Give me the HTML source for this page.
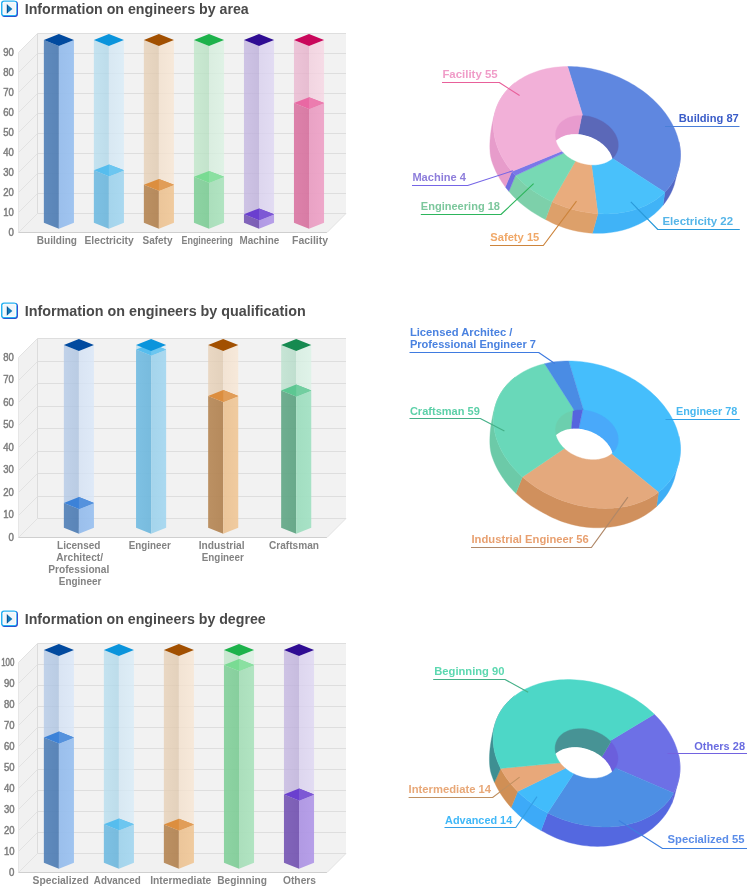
<!DOCTYPE html><html><head><meta charset="utf-8"><title>Information on engineers</title>
<style>html,body{margin:0;padding:0;background:#fff}svg{display:block}text{font-family:"Liberation Sans", sans-serif}</style></head><body>
<svg width="747" height="886" viewBox="0 0 747 886">
<rect width="747" height="886" fill="#fff"/>
<g opacity="0.999">
<g transform="translate(1,0.4)">
<rect x="0.6" y="0.6" width="16.3" height="16.1" rx="3" fill="#2b36c6"/>
<rect x="0" y="0" width="16" height="15.8" rx="3" fill="#25b1f1"/>
<rect x="1.5" y="1.3" width="13.7" height="13.3" rx="1.6" fill="#fff"/>
<rect x="2.4" y="2.2" width="12" height="11.6" rx="0.8" fill="#f1f6fa"/>
<path d="M5.9 3.9 L11.4 8.5 L5.9 13.1 Z" fill="#1279b9"/>
<path d="M5.9 3.9 L6.9 4.8 L6.9 12.2 L5.9 13.1 Z" fill="#0f4f8c"/>
</g>
<text x="24.7" y="14.0" font-size="14" font-weight="bold" fill="#4a4a4a" textLength="224" lengthAdjust="spacingAndGlyphs">Information on engineers by area</text>
<g transform="translate(1,302.4)">
<rect x="0.6" y="0.6" width="16.3" height="16.1" rx="3" fill="#2b36c6"/>
<rect x="0" y="0" width="16" height="15.8" rx="3" fill="#25b1f1"/>
<rect x="1.5" y="1.3" width="13.7" height="13.3" rx="1.6" fill="#fff"/>
<rect x="2.4" y="2.2" width="12" height="11.6" rx="0.8" fill="#f1f6fa"/>
<path d="M5.9 3.9 L11.4 8.5 L5.9 13.1 Z" fill="#1279b9"/>
<path d="M5.9 3.9 L6.9 4.8 L6.9 12.2 L5.9 13.1 Z" fill="#0f4f8c"/>
</g>
<text x="24.7" y="316.0" font-size="14" font-weight="bold" fill="#4a4a4a" textLength="281" lengthAdjust="spacingAndGlyphs">Information on engineers by qualification</text>
<g transform="translate(1,610.4)">
<rect x="0.6" y="0.6" width="16.3" height="16.1" rx="3" fill="#2b36c6"/>
<rect x="0" y="0" width="16" height="15.8" rx="3" fill="#25b1f1"/>
<rect x="1.5" y="1.3" width="13.7" height="13.3" rx="1.6" fill="#fff"/>
<rect x="2.4" y="2.2" width="12" height="11.6" rx="0.8" fill="#f1f6fa"/>
<path d="M5.9 3.9 L11.4 8.5 L5.9 13.1 Z" fill="#1279b9"/>
<path d="M5.9 3.9 L6.9 4.8 L6.9 12.2 L5.9 13.1 Z" fill="#0f4f8c"/>
</g>
<text x="24.7" y="624.0" font-size="14" font-weight="bold" fill="#4a4a4a" textLength="241" lengthAdjust="spacingAndGlyphs">Information on engineers by degree</text>
<polygon points="37.50,33.50 18.50,52.50 18.50,232.50 37.50,213.50" fill="#f1f1f1"/>
<polygon points="37.50,213.50 346.00,213.50 327.00,232.50 18.50,232.50" fill="#f1f1f1"/>
<rect x="37.5" y="33.5" width="308.5" height="180.0" fill="#f2f2f2"/>
<line x1="37.5" y1="33.50" x2="346.0" y2="33.50" stroke="#dedede" stroke-width="1"/>
<line x1="37.5" y1="33.50" x2="18.5" y2="52.50" stroke="#e2e2e2" stroke-width="1"/>
<line x1="37.5" y1="53.50" x2="346.0" y2="53.50" stroke="#dedede" stroke-width="1"/>
<line x1="37.5" y1="53.50" x2="18.5" y2="72.50" stroke="#e2e2e2" stroke-width="1"/>
<line x1="37.5" y1="73.50" x2="346.0" y2="73.50" stroke="#dedede" stroke-width="1"/>
<line x1="37.5" y1="73.50" x2="18.5" y2="92.50" stroke="#e2e2e2" stroke-width="1"/>
<line x1="37.5" y1="93.50" x2="346.0" y2="93.50" stroke="#dedede" stroke-width="1"/>
<line x1="37.5" y1="93.50" x2="18.5" y2="112.50" stroke="#e2e2e2" stroke-width="1"/>
<line x1="37.5" y1="113.50" x2="346.0" y2="113.50" stroke="#dedede" stroke-width="1"/>
<line x1="37.5" y1="113.50" x2="18.5" y2="132.50" stroke="#e2e2e2" stroke-width="1"/>
<line x1="37.5" y1="133.50" x2="346.0" y2="133.50" stroke="#dedede" stroke-width="1"/>
<line x1="37.5" y1="133.50" x2="18.5" y2="152.50" stroke="#e2e2e2" stroke-width="1"/>
<line x1="37.5" y1="153.50" x2="346.0" y2="153.50" stroke="#dedede" stroke-width="1"/>
<line x1="37.5" y1="153.50" x2="18.5" y2="172.50" stroke="#e2e2e2" stroke-width="1"/>
<line x1="37.5" y1="173.50" x2="346.0" y2="173.50" stroke="#dedede" stroke-width="1"/>
<line x1="37.5" y1="173.50" x2="18.5" y2="192.50" stroke="#e2e2e2" stroke-width="1"/>
<line x1="37.5" y1="193.50" x2="346.0" y2="193.50" stroke="#dedede" stroke-width="1"/>
<line x1="37.5" y1="193.50" x2="18.5" y2="212.50" stroke="#e2e2e2" stroke-width="1"/>
<line x1="37.5" y1="213.50" x2="346.0" y2="213.50" stroke="#dedede" stroke-width="1"/>
<line x1="37.5" y1="213.50" x2="18.5" y2="232.50" stroke="#e2e2e2" stroke-width="1"/>
<line x1="37.5" y1="33.5" x2="37.5" y2="213.5" stroke="#dcdcdc" stroke-width="1"/>
<line x1="18.5" y1="52.5" x2="18.5" y2="232.5" stroke="#e6e6e6" stroke-width="1"/>
<line x1="18.5" y1="232.5" x2="327.0" y2="232.5" stroke="#cfcfcf" stroke-width="1"/>
<line x1="346.0" y1="213.5" x2="327.0" y2="232.5" stroke="#e2e2e2" stroke-width="1"/>
<text x="13.8" y="55.60" text-anchor="end" font-size="10.1" fill="#7d7d7d" stroke="#7d7d7d" stroke-width="0.45" textLength="10.6" lengthAdjust="spacingAndGlyphs">90</text>
<text x="13.8" y="75.60" text-anchor="end" font-size="10.1" fill="#7d7d7d" stroke="#7d7d7d" stroke-width="0.45" textLength="10.6" lengthAdjust="spacingAndGlyphs">80</text>
<text x="13.8" y="95.60" text-anchor="end" font-size="10.1" fill="#7d7d7d" stroke="#7d7d7d" stroke-width="0.45" textLength="10.6" lengthAdjust="spacingAndGlyphs">70</text>
<text x="13.8" y="115.60" text-anchor="end" font-size="10.1" fill="#7d7d7d" stroke="#7d7d7d" stroke-width="0.45" textLength="10.6" lengthAdjust="spacingAndGlyphs">60</text>
<text x="13.8" y="135.60" text-anchor="end" font-size="10.1" fill="#7d7d7d" stroke="#7d7d7d" stroke-width="0.45" textLength="10.6" lengthAdjust="spacingAndGlyphs">50</text>
<text x="13.8" y="155.60" text-anchor="end" font-size="10.1" fill="#7d7d7d" stroke="#7d7d7d" stroke-width="0.45" textLength="10.6" lengthAdjust="spacingAndGlyphs">40</text>
<text x="13.8" y="175.60" text-anchor="end" font-size="10.1" fill="#7d7d7d" stroke="#7d7d7d" stroke-width="0.45" textLength="10.6" lengthAdjust="spacingAndGlyphs">30</text>
<text x="13.8" y="195.60" text-anchor="end" font-size="10.1" fill="#7d7d7d" stroke="#7d7d7d" stroke-width="0.45" textLength="10.6" lengthAdjust="spacingAndGlyphs">20</text>
<text x="13.8" y="215.60" text-anchor="end" font-size="10.1" fill="#7d7d7d" stroke="#7d7d7d" stroke-width="0.45" textLength="10.6" lengthAdjust="spacingAndGlyphs">10</text>
<text x="13.8" y="235.60" text-anchor="end" font-size="10.1" fill="#7d7d7d" stroke="#7d7d7d" stroke-width="0.45" textLength="5.4" lengthAdjust="spacingAndGlyphs">0</text>
<linearGradient id="g1" x1="0" y1="0" x2="1" y2="0"><stop offset="0" stop-color="rgba(85,131,185,0.93)"/><stop offset="1" stop-color="rgba(78,124,179,0.93)"/></linearGradient>
<polygon points="43.85,40.00 58.90,45.90 58.90,228.70 43.85,222.80" fill="url(#g1)"/>
<linearGradient id="g2" x1="0" y1="0" x2="1" y2="0"><stop offset="0" stop-color="rgba(148,187,235,0.93)"/><stop offset="1" stop-color="rgba(154,193,240,0.93)"/></linearGradient>
<polygon points="58.90,45.90 73.95,40.00 73.95,222.80 58.90,228.70" fill="url(#g2)"/>
<polygon points="43.85,40.00 58.90,34.10 73.95,40.00 58.90,45.90" fill="#004a9f"/>
<linearGradient id="g3" x1="0" y1="0" x2="1" y2="0"><stop offset="0" stop-color="rgba(183,222,239,0.78)"/><stop offset="1" stop-color="rgba(174,214,232,0.78)"/></linearGradient>
<polygon points="93.85,40.00 108.90,45.90 108.90,176.20 93.85,170.30" fill="url(#g3)"/>
<linearGradient id="g4" x1="0" y1="0" x2="1" y2="0"><stop offset="0" stop-color="rgba(209,229,242,0.78)"/><stop offset="1" stop-color="rgba(216,236,248,0.78)"/></linearGradient>
<polygon points="108.90,45.90 123.95,40.00 123.95,170.30 108.90,176.20" fill="url(#g4)"/>
<linearGradient id="g5" x1="0" y1="0" x2="1" y2="0"><stop offset="0" stop-color="rgba(117,189,226,0.93)"/><stop offset="1" stop-color="rgba(111,183,220,0.93)"/></linearGradient>
<polygon points="93.85,170.30 108.90,176.20 108.90,228.70 93.85,222.80" fill="url(#g5)"/>
<linearGradient id="g6" x1="0" y1="0" x2="1" y2="0"><stop offset="0" stop-color="rgba(159,210,235,0.93)"/><stop offset="1" stop-color="rgba(165,215,240,0.93)"/></linearGradient>
<polygon points="108.90,176.20 123.95,170.30 123.95,222.80 108.90,228.70" fill="url(#g6)"/>
<polygon points="93.85,170.30 108.90,164.40 123.95,170.30 108.90,176.20" fill="#56bdee"/>
<polygon points="108.90,164.40 123.95,170.30 108.90,176.20" fill="#6cc6f0"/>
<polygon points="93.85,40.00 108.90,34.10 123.95,40.00 108.90,45.90" fill="#0a94dc"/>
<linearGradient id="g7" x1="0" y1="0" x2="1" y2="0"><stop offset="0" stop-color="rgba(231,208,182,0.78)"/><stop offset="1" stop-color="rgba(223,200,173,0.78)"/></linearGradient>
<polygon points="143.85,40.00 158.90,45.90 158.90,190.70 143.85,184.80" fill="url(#g7)"/>
<linearGradient id="g8" x1="0" y1="0" x2="1" y2="0"><stop offset="0" stop-color="rgba(242,223,203,0.78)"/><stop offset="1" stop-color="rgba(248,230,211,0.78)"/></linearGradient>
<polygon points="158.90,45.90 173.95,40.00 173.95,184.80 158.90,190.70" fill="url(#g8)"/>
<linearGradient id="g9" x1="0" y1="0" x2="1" y2="0"><stop offset="0" stop-color="rgba(183,137,88,0.93)"/><stop offset="1" stop-color="rgba(177,130,81,0.93)"/></linearGradient>
<polygon points="143.85,184.80 158.90,190.70 158.90,228.70 143.85,222.80" fill="url(#g9)"/>
<linearGradient id="g10" x1="0" y1="0" x2="1" y2="0"><stop offset="0" stop-color="rgba(235,194,147,0.93)"/><stop offset="1" stop-color="rgba(240,200,153,0.93)"/></linearGradient>
<polygon points="158.90,190.70 173.95,184.80 173.95,222.80 158.90,228.70" fill="url(#g10)"/>
<polygon points="143.85,184.80 158.90,178.90 173.95,184.80 158.90,190.70" fill="#dc8e3f"/>
<polygon points="158.90,178.90 173.95,184.80 158.90,190.70" fill="#e19d58"/>
<polygon points="143.85,40.00 158.90,34.10 173.95,40.00 158.90,45.90" fill="#a25000"/>
<linearGradient id="g11" x1="0" y1="0" x2="1" y2="0"><stop offset="0" stop-color="rgba(191,231,201,0.78)"/><stop offset="1" stop-color="rgba(182,223,193,0.78)"/></linearGradient>
<polygon points="193.95,40.00 209.00,45.90 209.00,182.70 193.95,176.80" fill="url(#g11)"/>
<linearGradient id="g12" x1="0" y1="0" x2="1" y2="0"><stop offset="0" stop-color="rgba(211,236,219,0.78)"/><stop offset="1" stop-color="rgba(218,242,226,0.78)"/></linearGradient>
<polygon points="209.00,45.90 224.05,40.00 224.05,176.80 209.00,182.70" fill="url(#g12)"/>
<linearGradient id="g13" x1="0" y1="0" x2="1" y2="0"><stop offset="0" stop-color="rgba(134,209,157,0.93)"/><stop offset="1" stop-color="rgba(127,204,151,0.93)"/></linearGradient>
<polygon points="193.95,176.80 209.00,182.70 209.00,228.70 193.95,222.80" fill="url(#g13)"/>
<linearGradient id="g14" x1="0" y1="0" x2="1" y2="0"><stop offset="0" stop-color="rgba(166,221,184,0.93)"/><stop offset="1" stop-color="rgba(172,227,190,0.93)"/></linearGradient>
<polygon points="209.00,182.70 224.05,176.80 224.05,222.80 209.00,228.70" fill="url(#g14)"/>
<polygon points="193.95,176.80 209.00,170.90 224.05,176.80 209.00,182.70" fill="#79db93"/>
<polygon points="209.00,170.90 224.05,176.80 209.00,182.70" fill="#8ae0a1"/>
<polygon points="193.95,40.00 209.00,34.10 224.05,40.00 209.00,45.90" fill="#1db24b"/>
<linearGradient id="g15" x1="0" y1="0" x2="1" y2="0"><stop offset="0" stop-color="rgba(196,182,225,0.78)"/><stop offset="1" stop-color="rgba(187,173,217,0.78)"/></linearGradient>
<polygon points="243.95,40.00 259.00,45.90 259.00,220.20 243.95,214.30" fill="url(#g15)"/>
<linearGradient id="g16" x1="0" y1="0" x2="1" y2="0"><stop offset="0" stop-color="rgba(215,206,237,0.78)"/><stop offset="1" stop-color="rgba(222,214,243,0.78)"/></linearGradient>
<polygon points="259.00,45.90 274.05,40.00 274.05,214.30 259.00,220.20" fill="url(#g16)"/>
<linearGradient id="g17" x1="0" y1="0" x2="1" y2="0"><stop offset="0" stop-color="rgba(121,90,182,0.93)"/><stop offset="1" stop-color="rgba(115,83,176,0.93)"/></linearGradient>
<polygon points="243.95,214.30 259.00,220.20 259.00,228.70 243.95,222.80" fill="url(#g17)"/>
<linearGradient id="g18" x1="0" y1="0" x2="1" y2="0"><stop offset="0" stop-color="rgba(172,147,226,0.93)"/><stop offset="1" stop-color="rgba(178,153,232,0.93)"/></linearGradient>
<polygon points="259.00,220.20 274.05,214.30 274.05,222.80 259.00,228.70" fill="url(#g18)"/>
<polygon points="243.95,214.30 259.00,208.40 274.05,214.30 259.00,220.20" fill="#6a3fcf"/>
<polygon points="259.00,208.40 274.05,214.30 259.00,220.20" fill="#7d58d5"/>
<polygon points="243.95,40.00 259.00,34.10 274.05,40.00 259.00,45.90" fill="#2f0c93"/>
<linearGradient id="g19" x1="0" y1="0" x2="1" y2="0"><stop offset="0" stop-color="rgba(235,183,208,0.78)"/><stop offset="1" stop-color="rgba(228,174,200,0.78)"/></linearGradient>
<polygon points="293.95,40.00 309.00,45.90 309.00,109.00 293.95,103.10" fill="url(#g19)"/>
<linearGradient id="g20" x1="0" y1="0" x2="1" y2="0"><stop offset="0" stop-color="rgba(241,205,220,0.78)"/><stop offset="1" stop-color="rgba(247,213,227,0.78)"/></linearGradient>
<polygon points="309.00,45.90 324.05,40.00 324.05,103.10 309.00,109.00" fill="url(#g20)"/>
<linearGradient id="g21" x1="0" y1="0" x2="1" y2="0"><stop offset="0" stop-color="rgba(219,121,165,0.93)"/><stop offset="1" stop-color="rgba(214,115,159,0.93)"/></linearGradient>
<polygon points="293.95,103.10 309.00,109.00 309.00,228.70 293.95,222.80" fill="url(#g21)"/>
<linearGradient id="g22" x1="0" y1="0" x2="1" y2="0"><stop offset="0" stop-color="rgba(232,156,193,0.93)"/><stop offset="1" stop-color="rgba(238,162,199,0.93)"/></linearGradient>
<polygon points="309.00,109.00 324.05,103.10 324.05,222.80 309.00,228.70" fill="url(#g22)"/>
<polygon points="293.95,103.10 309.00,97.20 324.05,103.10 309.00,109.00" fill="#e968a3"/>
<polygon points="309.00,97.20 324.05,103.10 309.00,109.00" fill="#ec7caf"/>
<polygon points="293.95,40.00 309.00,34.10 324.05,40.00 309.00,45.90" fill="#c9075b"/>
<text x="56.90" y="244.1" text-anchor="middle" font-size="10" font-weight="bold" fill="#838383" textLength="40.2" lengthAdjust="spacingAndGlyphs">Building</text>
<text x="109.10" y="244.1" text-anchor="middle" font-size="10" font-weight="bold" fill="#838383" textLength="49.2" lengthAdjust="spacingAndGlyphs">Electricity</text>
<text x="157.50" y="244.1" text-anchor="middle" font-size="10" font-weight="bold" fill="#838383" textLength="30.0" lengthAdjust="spacingAndGlyphs">Safety</text>
<text x="207.25" y="244.1" text-anchor="middle" font-size="10" font-weight="bold" fill="#838383" textLength="51.5" lengthAdjust="spacingAndGlyphs">Engineering</text>
<text x="259.40" y="244.1" text-anchor="middle" font-size="10" font-weight="bold" fill="#838383" textLength="39.6" lengthAdjust="spacingAndGlyphs">Machine</text>
<text x="310.00" y="244.1" text-anchor="middle" font-size="10" font-weight="bold" fill="#838383" textLength="36.0" lengthAdjust="spacingAndGlyphs">Facility</text>
<polygon points="37.50,338.50 18.50,357.50 18.50,537.50 37.50,518.50" fill="#f1f1f1"/>
<polygon points="37.50,518.50 346.00,518.50 327.00,537.50 18.50,537.50" fill="#f1f1f1"/>
<rect x="37.5" y="338.5" width="308.5" height="180.0" fill="#f2f2f2"/>
<line x1="37.5" y1="338.50" x2="346.0" y2="338.50" stroke="#dedede" stroke-width="1"/>
<line x1="37.5" y1="338.50" x2="18.5" y2="357.50" stroke="#e2e2e2" stroke-width="1"/>
<line x1="37.5" y1="361.50" x2="346.0" y2="361.50" stroke="#dedede" stroke-width="1"/>
<line x1="37.5" y1="361.50" x2="18.5" y2="380.50" stroke="#e2e2e2" stroke-width="1"/>
<line x1="37.5" y1="383.50" x2="346.0" y2="383.50" stroke="#dedede" stroke-width="1"/>
<line x1="37.5" y1="383.50" x2="18.5" y2="402.50" stroke="#e2e2e2" stroke-width="1"/>
<line x1="37.5" y1="406.50" x2="346.0" y2="406.50" stroke="#dedede" stroke-width="1"/>
<line x1="37.5" y1="406.50" x2="18.5" y2="425.50" stroke="#e2e2e2" stroke-width="1"/>
<line x1="37.5" y1="428.50" x2="346.0" y2="428.50" stroke="#dedede" stroke-width="1"/>
<line x1="37.5" y1="428.50" x2="18.5" y2="447.50" stroke="#e2e2e2" stroke-width="1"/>
<line x1="37.5" y1="451.50" x2="346.0" y2="451.50" stroke="#dedede" stroke-width="1"/>
<line x1="37.5" y1="451.50" x2="18.5" y2="470.50" stroke="#e2e2e2" stroke-width="1"/>
<line x1="37.5" y1="473.50" x2="346.0" y2="473.50" stroke="#dedede" stroke-width="1"/>
<line x1="37.5" y1="473.50" x2="18.5" y2="492.50" stroke="#e2e2e2" stroke-width="1"/>
<line x1="37.5" y1="496.50" x2="346.0" y2="496.50" stroke="#dedede" stroke-width="1"/>
<line x1="37.5" y1="496.50" x2="18.5" y2="515.50" stroke="#e2e2e2" stroke-width="1"/>
<line x1="37.5" y1="518.50" x2="346.0" y2="518.50" stroke="#dedede" stroke-width="1"/>
<line x1="37.5" y1="518.50" x2="18.5" y2="537.50" stroke="#e2e2e2" stroke-width="1"/>
<line x1="37.5" y1="338.5" x2="37.5" y2="518.5" stroke="#dcdcdc" stroke-width="1"/>
<line x1="18.5" y1="357.5" x2="18.5" y2="537.5" stroke="#e6e6e6" stroke-width="1"/>
<line x1="18.5" y1="537.5" x2="327.0" y2="537.5" stroke="#cfcfcf" stroke-width="1"/>
<line x1="346.0" y1="518.5" x2="327.0" y2="537.5" stroke="#e2e2e2" stroke-width="1"/>
<text x="13.8" y="360.60" text-anchor="end" font-size="10.1" fill="#7d7d7d" stroke="#7d7d7d" stroke-width="0.45" textLength="10.6" lengthAdjust="spacingAndGlyphs">80</text>
<text x="13.8" y="383.10" text-anchor="end" font-size="10.1" fill="#7d7d7d" stroke="#7d7d7d" stroke-width="0.45" textLength="10.6" lengthAdjust="spacingAndGlyphs">70</text>
<text x="13.8" y="405.60" text-anchor="end" font-size="10.1" fill="#7d7d7d" stroke="#7d7d7d" stroke-width="0.45" textLength="10.6" lengthAdjust="spacingAndGlyphs">60</text>
<text x="13.8" y="428.10" text-anchor="end" font-size="10.1" fill="#7d7d7d" stroke="#7d7d7d" stroke-width="0.45" textLength="10.6" lengthAdjust="spacingAndGlyphs">50</text>
<text x="13.8" y="450.60" text-anchor="end" font-size="10.1" fill="#7d7d7d" stroke="#7d7d7d" stroke-width="0.45" textLength="10.6" lengthAdjust="spacingAndGlyphs">40</text>
<text x="13.8" y="473.10" text-anchor="end" font-size="10.1" fill="#7d7d7d" stroke="#7d7d7d" stroke-width="0.45" textLength="10.6" lengthAdjust="spacingAndGlyphs">30</text>
<text x="13.8" y="495.60" text-anchor="end" font-size="10.1" fill="#7d7d7d" stroke="#7d7d7d" stroke-width="0.45" textLength="10.6" lengthAdjust="spacingAndGlyphs">20</text>
<text x="13.8" y="518.10" text-anchor="end" font-size="10.1" fill="#7d7d7d" stroke="#7d7d7d" stroke-width="0.45" textLength="10.6" lengthAdjust="spacingAndGlyphs">10</text>
<text x="13.8" y="540.60" text-anchor="end" font-size="10.1" fill="#7d7d7d" stroke="#7d7d7d" stroke-width="0.45" textLength="5.4" lengthAdjust="spacingAndGlyphs">0</text>
<linearGradient id="g23" x1="0" y1="0" x2="1" y2="0"><stop offset="0" stop-color="rgba(179,201,231,0.78)"/><stop offset="1" stop-color="rgba(170,193,223,0.78)"/></linearGradient>
<polygon points="63.85,345.00 78.90,350.90 78.90,508.90 63.85,503.00" fill="url(#g23)"/>
<linearGradient id="g24" x1="0" y1="0" x2="1" y2="0"><stop offset="0" stop-color="rgba(210,224,243,0.78)"/><stop offset="1" stop-color="rgba(217,231,249,0.78)"/></linearGradient>
<polygon points="78.90,350.90 93.95,345.00 93.95,503.00 78.90,508.90" fill="url(#g24)"/>
<linearGradient id="g25" x1="0" y1="0" x2="1" y2="0"><stop offset="0" stop-color="rgba(85,131,185,0.93)"/><stop offset="1" stop-color="rgba(78,124,179,0.93)"/></linearGradient>
<polygon points="63.85,503.00 78.90,508.90 78.90,533.70 63.85,527.80" fill="url(#g25)"/>
<linearGradient id="g26" x1="0" y1="0" x2="1" y2="0"><stop offset="0" stop-color="rgba(148,187,235,0.93)"/><stop offset="1" stop-color="rgba(154,193,240,0.93)"/></linearGradient>
<polygon points="78.90,508.90 93.95,503.00 93.95,527.80 78.90,533.70" fill="url(#g26)"/>
<polygon points="63.85,503.00 78.90,497.10 93.95,503.00 78.90,508.90" fill="#3c82d8"/>
<polygon points="78.90,497.10 93.95,503.00 78.90,508.90" fill="#5592dd"/>
<polygon points="63.85,345.00 78.90,339.10 93.95,345.00 78.90,350.90" fill="#004a9f"/>
<linearGradient id="g27" x1="0" y1="0" x2="1" y2="0"><stop offset="0" stop-color="rgba(183,222,239,0.78)"/><stop offset="1" stop-color="rgba(174,214,232,0.78)"/></linearGradient>
<polygon points="136.05,345.00 151.10,350.90 151.10,355.50 136.05,349.60" fill="url(#g27)"/>
<linearGradient id="g28" x1="0" y1="0" x2="1" y2="0"><stop offset="0" stop-color="rgba(209,229,242,0.78)"/><stop offset="1" stop-color="rgba(216,236,248,0.78)"/></linearGradient>
<polygon points="151.10,350.90 166.15,345.00 166.15,349.60 151.10,355.50" fill="url(#g28)"/>
<linearGradient id="g29" x1="0" y1="0" x2="1" y2="0"><stop offset="0" stop-color="rgba(117,189,226,0.93)"/><stop offset="1" stop-color="rgba(111,183,220,0.93)"/></linearGradient>
<polygon points="136.05,349.60 151.10,355.50 151.10,533.70 136.05,527.80" fill="url(#g29)"/>
<linearGradient id="g30" x1="0" y1="0" x2="1" y2="0"><stop offset="0" stop-color="rgba(159,210,235,0.93)"/><stop offset="1" stop-color="rgba(165,215,240,0.93)"/></linearGradient>
<polygon points="151.10,355.50 166.15,349.60 166.15,527.80 151.10,533.70" fill="url(#g30)"/>
<polygon points="136.05,349.60 151.10,343.70 166.15,349.60 151.10,355.50" fill="#56bdee"/>
<polygon points="151.10,343.70 166.15,349.60 151.10,355.50" fill="#6cc6f0"/>
<polygon points="136.05,345.00 151.10,339.10 166.15,345.00 151.10,350.90" fill="#0a94dc"/>
<linearGradient id="g31" x1="0" y1="0" x2="1" y2="0"><stop offset="0" stop-color="rgba(231,208,182,0.78)"/><stop offset="1" stop-color="rgba(223,200,173,0.78)"/></linearGradient>
<polygon points="208.15,345.00 223.20,350.90 223.20,401.90 208.15,396.00" fill="url(#g31)"/>
<linearGradient id="g32" x1="0" y1="0" x2="1" y2="0"><stop offset="0" stop-color="rgba(242,223,203,0.78)"/><stop offset="1" stop-color="rgba(248,230,211,0.78)"/></linearGradient>
<polygon points="223.20,350.90 238.25,345.00 238.25,396.00 223.20,401.90" fill="url(#g32)"/>
<linearGradient id="g33" x1="0" y1="0" x2="1" y2="0"><stop offset="0" stop-color="rgba(183,137,88,0.93)"/><stop offset="1" stop-color="rgba(177,130,81,0.93)"/></linearGradient>
<polygon points="208.15,396.00 223.20,401.90 223.20,533.70 208.15,527.80" fill="url(#g33)"/>
<linearGradient id="g34" x1="0" y1="0" x2="1" y2="0"><stop offset="0" stop-color="rgba(235,194,147,0.93)"/><stop offset="1" stop-color="rgba(240,200,153,0.93)"/></linearGradient>
<polygon points="223.20,401.90 238.25,396.00 238.25,527.80 223.20,533.70" fill="url(#g34)"/>
<polygon points="208.15,396.00 223.20,390.10 238.25,396.00 223.20,401.90" fill="#dc8e3f"/>
<polygon points="223.20,390.10 238.25,396.00 223.20,401.90" fill="#e19d58"/>
<polygon points="208.15,345.00 223.20,339.10 238.25,345.00 223.20,350.90" fill="#a25000"/>
<linearGradient id="g35" x1="0" y1="0" x2="1" y2="0"><stop offset="0" stop-color="rgba(186,225,205,0.78)"/><stop offset="1" stop-color="rgba(177,217,197,0.78)"/></linearGradient>
<polygon points="281.15,345.00 296.20,350.90 296.20,396.40 281.15,390.50" fill="url(#g35)"/>
<linearGradient id="g36" x1="0" y1="0" x2="1" y2="0"><stop offset="0" stop-color="rgba(211,237,223,0.78)"/><stop offset="1" stop-color="rgba(218,243,230,0.78)"/></linearGradient>
<polygon points="296.20,350.90 311.25,345.00 311.25,390.50 296.20,396.40" fill="url(#g36)"/>
<linearGradient id="g37" x1="0" y1="0" x2="1" y2="0"><stop offset="0" stop-color="rgba(101,169,137,0.93)"/><stop offset="1" stop-color="rgba(94,163,130,0.93)"/></linearGradient>
<polygon points="281.15,390.50 296.20,396.40 296.20,533.70 281.15,527.80" fill="url(#g37)"/>
<linearGradient id="g38" x1="0" y1="0" x2="1" y2="0"><stop offset="0" stop-color="rgba(156,220,189,0.93)"/><stop offset="1" stop-color="rgba(162,225,195,0.93)"/></linearGradient>
<polygon points="296.20,396.40 311.25,390.50 311.25,527.80 296.20,533.70" fill="url(#g38)"/>
<polygon points="281.15,390.50 296.20,384.60 311.25,390.50 296.20,396.40" fill="#5cc792"/>
<polygon points="296.20,384.60 311.25,390.50 296.20,396.40" fill="#71cea0"/>
<polygon points="281.15,345.00 296.20,339.10 311.25,345.00 296.20,350.90" fill="#168a50"/>
<text x="78.75" y="549.2" text-anchor="middle" font-size="10" font-weight="bold" fill="#838383" textLength="43.5" lengthAdjust="spacingAndGlyphs">Licensed</text>
<text x="79.65" y="561.3" text-anchor="middle" font-size="10" font-weight="bold" fill="#838383" textLength="46.7" lengthAdjust="spacingAndGlyphs">Architect/</text>
<text x="78.80" y="573.3" text-anchor="middle" font-size="10" font-weight="bold" fill="#838383" textLength="61.0" lengthAdjust="spacingAndGlyphs">Professional</text>
<text x="80.05" y="585.2" text-anchor="middle" font-size="10" font-weight="bold" fill="#838383" textLength="42.5" lengthAdjust="spacingAndGlyphs">Engineer</text>
<text x="149.80" y="549.2" text-anchor="middle" font-size="10" font-weight="bold" fill="#838383" textLength="42.0" lengthAdjust="spacingAndGlyphs">Engineer</text>
<text x="221.70" y="549.2" text-anchor="middle" font-size="10" font-weight="bold" fill="#838383" textLength="45.8" lengthAdjust="spacingAndGlyphs">Industrial</text>
<text x="222.85" y="561.3" text-anchor="middle" font-size="10" font-weight="bold" fill="#838383" textLength="42.1" lengthAdjust="spacingAndGlyphs">Engineer</text>
<text x="294.00" y="549.2" text-anchor="middle" font-size="10" font-weight="bold" fill="#838383" textLength="50.0" lengthAdjust="spacingAndGlyphs">Craftsman</text>
<polygon points="37.50,643.50 18.50,662.50 18.50,872.50 37.50,853.50" fill="#f1f1f1"/>
<polygon points="37.50,853.50 346.00,853.50 327.00,872.50 18.50,872.50" fill="#f1f1f1"/>
<rect x="37.5" y="643.5" width="308.5" height="210.0" fill="#f2f2f2"/>
<line x1="37.5" y1="643.50" x2="346.0" y2="643.50" stroke="#dedede" stroke-width="1"/>
<line x1="37.5" y1="643.50" x2="18.5" y2="662.50" stroke="#e2e2e2" stroke-width="1"/>
<line x1="37.5" y1="664.50" x2="346.0" y2="664.50" stroke="#dedede" stroke-width="1"/>
<line x1="37.5" y1="664.50" x2="18.5" y2="683.50" stroke="#e2e2e2" stroke-width="1"/>
<line x1="37.5" y1="685.50" x2="346.0" y2="685.50" stroke="#dedede" stroke-width="1"/>
<line x1="37.5" y1="685.50" x2="18.5" y2="704.50" stroke="#e2e2e2" stroke-width="1"/>
<line x1="37.5" y1="706.50" x2="346.0" y2="706.50" stroke="#dedede" stroke-width="1"/>
<line x1="37.5" y1="706.50" x2="18.5" y2="725.50" stroke="#e2e2e2" stroke-width="1"/>
<line x1="37.5" y1="727.50" x2="346.0" y2="727.50" stroke="#dedede" stroke-width="1"/>
<line x1="37.5" y1="727.50" x2="18.5" y2="746.50" stroke="#e2e2e2" stroke-width="1"/>
<line x1="37.5" y1="748.50" x2="346.0" y2="748.50" stroke="#dedede" stroke-width="1"/>
<line x1="37.5" y1="748.50" x2="18.5" y2="767.50" stroke="#e2e2e2" stroke-width="1"/>
<line x1="37.5" y1="769.50" x2="346.0" y2="769.50" stroke="#dedede" stroke-width="1"/>
<line x1="37.5" y1="769.50" x2="18.5" y2="788.50" stroke="#e2e2e2" stroke-width="1"/>
<line x1="37.5" y1="790.50" x2="346.0" y2="790.50" stroke="#dedede" stroke-width="1"/>
<line x1="37.5" y1="790.50" x2="18.5" y2="809.50" stroke="#e2e2e2" stroke-width="1"/>
<line x1="37.5" y1="811.50" x2="346.0" y2="811.50" stroke="#dedede" stroke-width="1"/>
<line x1="37.5" y1="811.50" x2="18.5" y2="830.50" stroke="#e2e2e2" stroke-width="1"/>
<line x1="37.5" y1="832.50" x2="346.0" y2="832.50" stroke="#dedede" stroke-width="1"/>
<line x1="37.5" y1="832.50" x2="18.5" y2="851.50" stroke="#e2e2e2" stroke-width="1"/>
<line x1="37.5" y1="853.50" x2="346.0" y2="853.50" stroke="#dedede" stroke-width="1"/>
<line x1="37.5" y1="853.50" x2="18.5" y2="872.50" stroke="#e2e2e2" stroke-width="1"/>
<line x1="37.5" y1="643.5" x2="37.5" y2="853.5" stroke="#dcdcdc" stroke-width="1"/>
<line x1="18.5" y1="662.5" x2="18.5" y2="872.5" stroke="#e6e6e6" stroke-width="1"/>
<line x1="18.5" y1="872.5" x2="327.0" y2="872.5" stroke="#cfcfcf" stroke-width="1"/>
<line x1="346.0" y1="853.5" x2="327.0" y2="872.5" stroke="#e2e2e2" stroke-width="1"/>
<text x="14.5" y="665.60" text-anchor="end" font-size="10.1" fill="#7d7d7d" stroke="#7d7d7d" stroke-width="0.45" textLength="13.3" lengthAdjust="spacingAndGlyphs">100</text>
<text x="14.5" y="686.60" text-anchor="end" font-size="10.1" fill="#7d7d7d" stroke="#7d7d7d" stroke-width="0.45" textLength="10.6" lengthAdjust="spacingAndGlyphs">90</text>
<text x="14.5" y="707.60" text-anchor="end" font-size="10.1" fill="#7d7d7d" stroke="#7d7d7d" stroke-width="0.45" textLength="10.6" lengthAdjust="spacingAndGlyphs">80</text>
<text x="14.5" y="728.60" text-anchor="end" font-size="10.1" fill="#7d7d7d" stroke="#7d7d7d" stroke-width="0.45" textLength="10.6" lengthAdjust="spacingAndGlyphs">70</text>
<text x="14.5" y="749.60" text-anchor="end" font-size="10.1" fill="#7d7d7d" stroke="#7d7d7d" stroke-width="0.45" textLength="10.6" lengthAdjust="spacingAndGlyphs">60</text>
<text x="14.5" y="770.60" text-anchor="end" font-size="10.1" fill="#7d7d7d" stroke="#7d7d7d" stroke-width="0.45" textLength="10.6" lengthAdjust="spacingAndGlyphs">50</text>
<text x="14.5" y="791.60" text-anchor="end" font-size="10.1" fill="#7d7d7d" stroke="#7d7d7d" stroke-width="0.45" textLength="10.6" lengthAdjust="spacingAndGlyphs">40</text>
<text x="14.5" y="812.60" text-anchor="end" font-size="10.1" fill="#7d7d7d" stroke="#7d7d7d" stroke-width="0.45" textLength="10.6" lengthAdjust="spacingAndGlyphs">30</text>
<text x="14.5" y="833.60" text-anchor="end" font-size="10.1" fill="#7d7d7d" stroke="#7d7d7d" stroke-width="0.45" textLength="10.6" lengthAdjust="spacingAndGlyphs">20</text>
<text x="14.5" y="854.60" text-anchor="end" font-size="10.1" fill="#7d7d7d" stroke="#7d7d7d" stroke-width="0.45" textLength="10.6" lengthAdjust="spacingAndGlyphs">10</text>
<text x="14.5" y="875.60" text-anchor="end" font-size="10.1" fill="#7d7d7d" stroke="#7d7d7d" stroke-width="0.45" textLength="5.4" lengthAdjust="spacingAndGlyphs">0</text>
<linearGradient id="g39" x1="0" y1="0" x2="1" y2="0"><stop offset="0" stop-color="rgba(179,201,231,0.78)"/><stop offset="1" stop-color="rgba(170,193,223,0.78)"/></linearGradient>
<polygon points="43.85,650.00 58.90,655.90 58.90,743.40 43.85,737.50" fill="url(#g39)"/>
<linearGradient id="g40" x1="0" y1="0" x2="1" y2="0"><stop offset="0" stop-color="rgba(210,224,243,0.78)"/><stop offset="1" stop-color="rgba(217,231,249,0.78)"/></linearGradient>
<polygon points="58.90,655.90 73.95,650.00 73.95,737.50 58.90,743.40" fill="url(#g40)"/>
<linearGradient id="g41" x1="0" y1="0" x2="1" y2="0"><stop offset="0" stop-color="rgba(85,131,185,0.93)"/><stop offset="1" stop-color="rgba(78,124,179,0.93)"/></linearGradient>
<polygon points="43.85,737.50 58.90,743.40 58.90,868.70 43.85,862.80" fill="url(#g41)"/>
<linearGradient id="g42" x1="0" y1="0" x2="1" y2="0"><stop offset="0" stop-color="rgba(148,187,235,0.93)"/><stop offset="1" stop-color="rgba(154,193,240,0.93)"/></linearGradient>
<polygon points="58.90,743.40 73.95,737.50 73.95,862.80 58.90,868.70" fill="url(#g42)"/>
<polygon points="43.85,737.50 58.90,731.60 73.95,737.50 58.90,743.40" fill="#3c82d8"/>
<polygon points="58.90,731.60 73.95,737.50 58.90,743.40" fill="#5592dd"/>
<polygon points="43.85,650.00 58.90,644.10 73.95,650.00 58.90,655.90" fill="#004a9f"/>
<linearGradient id="g43" x1="0" y1="0" x2="1" y2="0"><stop offset="0" stop-color="rgba(183,222,239,0.78)"/><stop offset="1" stop-color="rgba(174,214,232,0.78)"/></linearGradient>
<polygon points="103.85,650.00 118.90,655.90 118.90,830.20 103.85,824.30" fill="url(#g43)"/>
<linearGradient id="g44" x1="0" y1="0" x2="1" y2="0"><stop offset="0" stop-color="rgba(209,229,242,0.78)"/><stop offset="1" stop-color="rgba(216,236,248,0.78)"/></linearGradient>
<polygon points="118.90,655.90 133.95,650.00 133.95,824.30 118.90,830.20" fill="url(#g44)"/>
<linearGradient id="g45" x1="0" y1="0" x2="1" y2="0"><stop offset="0" stop-color="rgba(117,189,226,0.93)"/><stop offset="1" stop-color="rgba(111,183,220,0.93)"/></linearGradient>
<polygon points="103.85,824.30 118.90,830.20 118.90,868.70 103.85,862.80" fill="url(#g45)"/>
<linearGradient id="g46" x1="0" y1="0" x2="1" y2="0"><stop offset="0" stop-color="rgba(159,210,235,0.93)"/><stop offset="1" stop-color="rgba(165,215,240,0.93)"/></linearGradient>
<polygon points="118.90,830.20 133.95,824.30 133.95,862.80 118.90,868.70" fill="url(#g46)"/>
<polygon points="103.85,824.30 118.90,818.40 133.95,824.30 118.90,830.20" fill="#56bdee"/>
<polygon points="118.90,818.40 133.95,824.30 118.90,830.20" fill="#6cc6f0"/>
<polygon points="103.85,650.00 118.90,644.10 133.95,650.00 118.90,655.90" fill="#0a94dc"/>
<linearGradient id="g47" x1="0" y1="0" x2="1" y2="0"><stop offset="0" stop-color="rgba(231,208,182,0.78)"/><stop offset="1" stop-color="rgba(223,200,173,0.78)"/></linearGradient>
<polygon points="163.85,650.00 178.90,655.90 178.90,830.50 163.85,824.60" fill="url(#g47)"/>
<linearGradient id="g48" x1="0" y1="0" x2="1" y2="0"><stop offset="0" stop-color="rgba(242,223,203,0.78)"/><stop offset="1" stop-color="rgba(248,230,211,0.78)"/></linearGradient>
<polygon points="178.90,655.90 193.95,650.00 193.95,824.60 178.90,830.50" fill="url(#g48)"/>
<linearGradient id="g49" x1="0" y1="0" x2="1" y2="0"><stop offset="0" stop-color="rgba(183,137,88,0.93)"/><stop offset="1" stop-color="rgba(177,130,81,0.93)"/></linearGradient>
<polygon points="163.85,824.60 178.90,830.50 178.90,868.70 163.85,862.80" fill="url(#g49)"/>
<linearGradient id="g50" x1="0" y1="0" x2="1" y2="0"><stop offset="0" stop-color="rgba(235,194,147,0.93)"/><stop offset="1" stop-color="rgba(240,200,153,0.93)"/></linearGradient>
<polygon points="178.90,830.50 193.95,824.60 193.95,862.80 178.90,868.70" fill="url(#g50)"/>
<polygon points="163.85,824.60 178.90,818.70 193.95,824.60 178.90,830.50" fill="#dc8e3f"/>
<polygon points="178.90,818.70 193.95,824.60 178.90,830.50" fill="#e19d58"/>
<polygon points="163.85,650.00 178.90,644.10 193.95,650.00 178.90,655.90" fill="#a25000"/>
<linearGradient id="g51" x1="0" y1="0" x2="1" y2="0"><stop offset="0" stop-color="rgba(191,231,201,0.78)"/><stop offset="1" stop-color="rgba(182,223,193,0.78)"/></linearGradient>
<polygon points="223.95,650.00 239.00,655.90 239.00,670.90 223.95,665.00" fill="url(#g51)"/>
<linearGradient id="g52" x1="0" y1="0" x2="1" y2="0"><stop offset="0" stop-color="rgba(211,236,219,0.78)"/><stop offset="1" stop-color="rgba(218,242,226,0.78)"/></linearGradient>
<polygon points="239.00,655.90 254.05,650.00 254.05,665.00 239.00,670.90" fill="url(#g52)"/>
<linearGradient id="g53" x1="0" y1="0" x2="1" y2="0"><stop offset="0" stop-color="rgba(134,209,157,0.93)"/><stop offset="1" stop-color="rgba(127,204,151,0.93)"/></linearGradient>
<polygon points="223.95,665.00 239.00,670.90 239.00,868.70 223.95,862.80" fill="url(#g53)"/>
<linearGradient id="g54" x1="0" y1="0" x2="1" y2="0"><stop offset="0" stop-color="rgba(166,221,184,0.93)"/><stop offset="1" stop-color="rgba(172,227,190,0.93)"/></linearGradient>
<polygon points="239.00,670.90 254.05,665.00 254.05,862.80 239.00,868.70" fill="url(#g54)"/>
<polygon points="223.95,665.00 239.00,659.10 254.05,665.00 239.00,670.90" fill="#79db93"/>
<polygon points="239.00,659.10 254.05,665.00 239.00,670.90" fill="#8ae0a1"/>
<polygon points="223.95,650.00 239.00,644.10 254.05,650.00 239.00,655.90" fill="#1db24b"/>
<linearGradient id="g55" x1="0" y1="0" x2="1" y2="0"><stop offset="0" stop-color="rgba(196,182,225,0.78)"/><stop offset="1" stop-color="rgba(187,173,217,0.78)"/></linearGradient>
<polygon points="283.95,650.00 299.00,655.90 299.00,800.40 283.95,794.50" fill="url(#g55)"/>
<linearGradient id="g56" x1="0" y1="0" x2="1" y2="0"><stop offset="0" stop-color="rgba(215,206,237,0.78)"/><stop offset="1" stop-color="rgba(222,214,243,0.78)"/></linearGradient>
<polygon points="299.00,655.90 314.05,650.00 314.05,794.50 299.00,800.40" fill="url(#g56)"/>
<linearGradient id="g57" x1="0" y1="0" x2="1" y2="0"><stop offset="0" stop-color="rgba(121,90,182,0.93)"/><stop offset="1" stop-color="rgba(115,83,176,0.93)"/></linearGradient>
<polygon points="283.95,794.50 299.00,800.40 299.00,868.70 283.95,862.80" fill="url(#g57)"/>
<linearGradient id="g58" x1="0" y1="0" x2="1" y2="0"><stop offset="0" stop-color="rgba(172,147,226,0.93)"/><stop offset="1" stop-color="rgba(178,153,232,0.93)"/></linearGradient>
<polygon points="299.00,800.40 314.05,794.50 314.05,862.80 299.00,868.70" fill="url(#g58)"/>
<polygon points="283.95,794.50 299.00,788.60 314.05,794.50 299.00,800.40" fill="#6a3fcf"/>
<polygon points="299.00,788.60 314.05,794.50 299.00,800.40" fill="#7d58d5"/>
<polygon points="283.95,650.00 299.00,644.10 314.05,650.00 299.00,655.90" fill="#2f0c93"/>
<text x="60.65" y="883.7" text-anchor="middle" font-size="10" font-weight="bold" fill="#838383" textLength="56.3" lengthAdjust="spacingAndGlyphs">Specialized</text>
<text x="117.30" y="883.7" text-anchor="middle" font-size="10" font-weight="bold" fill="#838383" textLength="47.0" lengthAdjust="spacingAndGlyphs">Advanced</text>
<text x="180.75" y="883.7" text-anchor="middle" font-size="10" font-weight="bold" fill="#838383" textLength="61.1" lengthAdjust="spacingAndGlyphs">Intermediate</text>
<text x="242.10" y="883.7" text-anchor="middle" font-size="10" font-weight="bold" fill="#838383" textLength="49.6" lengthAdjust="spacingAndGlyphs">Beginning</text>
<text x="299.50" y="883.7" text-anchor="middle" font-size="10" font-weight="bold" fill="#838383" textLength="33.0" lengthAdjust="spacingAndGlyphs">Others</text>
<polygon points="678.83,141.72 679.37,144.39 679.79,147.06 680.08,149.72 680.26,152.36 680.31,154.99 680.24,157.60 680.05,160.19 679.73,162.75 679.29,165.28 678.73,167.78 678.05,170.24 677.25,172.66 676.33,175.04 675.29,177.37 674.13,179.66 672.86,181.89 671.48,184.07 669.99,186.19 668.38,188.25 666.67,190.24 664.86,192.17 662.96,205.28 664.80,202.93 666.53,200.52 668.13,198.04 669.61,195.50 670.96,192.90 672.19,190.25 673.29,187.55 674.26,184.81 677.25,172.66 678.05,170.24 678.73,167.78 679.29,165.28 679.73,162.75 680.05,160.19 680.24,157.60 680.31,154.99 680.26,152.36 680.08,149.72 679.79,147.06 679.37,144.39 678.83,141.72" fill="#5468c4" stroke="#5468c4" stroke-width="0.4"/>
<polygon points="664.86,192.17 662.94,194.03 660.93,195.82 658.81,197.54 656.61,199.18 654.31,200.74 651.92,202.22 649.45,203.62 646.90,204.94 644.26,206.18 641.55,207.32 638.77,208.38 635.93,209.35 633.01,210.23 630.04,211.02 627.01,211.71 623.93,212.31 620.80,212.82 617.62,213.23 614.40,213.54 611.15,213.76 607.87,213.88 604.56,213.90 601.22,213.83 597.87,213.66 592.43,233.14 595.97,233.27 599.50,233.28 603.01,233.16 606.49,232.93 609.95,232.57 613.36,232.10 616.73,231.50 620.06,230.79 623.33,229.97 626.54,229.03 629.69,227.98 632.77,226.82 635.78,225.55 638.72,224.18 641.57,222.71 644.34,221.13 647.01,219.46 649.60,217.69 652.09,215.84 654.47,213.89 656.76,211.86 658.94,209.74 661.00,207.55 662.96,205.28" fill="#40b3f7" stroke="#40b3f7" stroke-width="0.4"/>
<polygon points="597.87,213.66 594.55,213.40 591.22,213.05 587.88,212.60 584.54,212.06 581.20,211.42 577.88,210.70 574.56,209.89 571.26,208.99 567.98,208.00 564.72,206.92 561.49,205.76 558.30,204.51 555.14,203.18 552.02,201.78 545.46,219.48 548.52,221.12 551.65,222.68 554.84,224.14 558.08,225.50 561.38,226.76 564.72,227.92 568.10,228.97 571.52,229.91 574.97,230.74 578.44,231.45 581.93,232.05 585.43,232.53 588.93,232.89 592.43,233.14" fill="#dda06a" stroke="#dda06a" stroke-width="0.4"/>
<polygon points="552.02,201.78 549.01,200.32 546.06,198.80 543.15,197.20 540.29,195.54 537.50,193.80 534.76,192.01 532.09,190.14 529.48,188.22 526.94,186.24 524.48,184.20 522.09,182.11 519.78,179.97 517.55,177.78 515.41,175.54 508.87,191.34 510.99,193.77 513.20,196.15 515.49,198.46 517.87,200.72 520.32,202.91 522.86,205.04 525.46,207.10 528.14,209.09 530.89,211.00 533.70,212.84 536.57,214.60 539.49,216.29 542.47,217.89 545.46,219.48" fill="#7dd0aa" stroke="#7dd0aa" stroke-width="0.4"/>
<polygon points="515.41,175.54 513.58,173.52 511.83,171.47 505.33,186.91 507.07,189.15 508.87,191.34" fill="#6f6ce0" stroke="#6f6ce0" stroke-width="0.4"/>
<polygon points="511.83,171.47 509.93,169.11 508.12,166.72 506.41,164.30 504.80,161.84 503.29,159.36 501.88,156.86 500.58,154.33 499.38,151.79 498.29,149.23 497.31,146.66 496.44,144.09 495.68,141.51 495.03,138.92 494.49,136.34 494.07,133.77 493.76,131.20 493.57,128.64 493.49,126.10 493.53,123.57 493.68,121.07 493.94,118.59 494.32,116.13 494.81,113.71 495.42,111.31 496.14,108.95 496.96,106.64 497.90,104.36 498.95,102.12 500.11,99.94 501.37,97.80 502.74,95.71 504.21,93.68 505.79,91.71 507.46,89.79 509.23,87.94 511.09,86.15 513.05,84.43 515.10,82.77 515.10,82.77 513.05,84.43 511.09,86.15 509.23,87.94 507.46,89.79 505.79,91.71 504.21,93.68 502.74,95.71 501.37,97.80 500.11,99.94 498.95,102.12 497.90,104.36 496.96,106.64 496.12,108.98 495.29,111.54 494.47,114.32 493.68,117.31 492.93,120.49 492.22,123.84 491.58,127.34 491.01,130.96 490.53,134.67 490.17,138.43 489.93,142.20 489.83,145.94 489.91,149.60 490.16,153.13 490.62,156.48 491.31,159.59 492.22,162.45 493.25,165.28 494.39,168.09 495.64,170.88 497.00,173.64 498.46,176.37 500.03,179.06 501.70,181.72 503.47,184.33 505.33,186.91" fill="#e79ccb" stroke="#e79ccb" stroke-width="0.4"/>
<clipPath id="h140"><polygon points="619.45,151.92 619.13,152.74 618.78,153.55 618.38,154.35 617.94,155.12 617.47,155.88 616.96,156.62 616.41,157.34 615.83,158.04 615.21,158.71 614.55,159.37 613.87,160.00 613.15,160.60 612.40,161.18 611.61,161.74 610.80,162.27 609.96,162.77 609.09,163.25 608.19,163.69 607.27,164.11 606.32,164.50 605.35,164.86 604.35,165.19 603.34,165.49 602.30,165.76 601.25,165.99 600.18,166.20 599.09,166.37 597.99,166.52 596.87,166.63 595.74,166.70 594.60,166.75 593.46,166.76 592.30,166.74 591.14,166.69 589.97,166.61 588.80,166.49 587.62,166.35 586.45,166.17 585.27,165.95 584.10,165.71 582.93,165.44 581.77,165.13 580.61,164.80 579.46,164.43 578.32,164.04 577.19,163.61 576.07,163.16 574.96,162.68 573.87,162.18 572.80,161.64 571.74,161.08 570.70,160.49 569.68,159.88 568.68,159.25 567.70,158.59 566.75,157.91 565.82,157.21 564.92,156.49 564.04,155.75 563.19,154.98 562.37,154.21 561.58,153.41 560.82,152.60 560.10,151.77 559.40,150.93 558.74,150.07 558.11,149.21 557.52,148.33 556.97,147.44 556.45,146.55 555.96,145.64 555.52,144.73 555.11,143.81 554.75,142.89 554.42,141.97 554.13,141.04 553.88,140.12 553.67,139.19 553.50,138.26 553.37,137.34 553.29,136.42 553.24,135.50 553.24,134.60 553.27,133.69 553.35,132.80 553.47,131.91 553.63,131.04 553.83,130.17 554.07,129.32 554.35,128.48 554.67,127.66 555.02,126.85 555.42,126.05 555.86,125.28 556.33,124.52 556.84,123.78 557.39,123.06 557.97,122.36 558.59,121.69 559.25,121.03 559.93,120.40 560.65,119.80 561.40,119.22 562.19,118.66 563.00,118.13 563.84,117.63 564.71,117.15 565.61,116.71 566.53,116.29 567.48,115.90 568.45,115.54 569.45,115.21 570.46,114.91 571.50,114.64 572.55,114.41 573.62,114.20 574.71,114.03 575.81,113.88 576.93,113.77 578.06,113.70 579.20,113.65 580.34,113.64 581.50,113.66 582.66,113.71 583.83,113.79 585.00,113.91 586.18,114.05 587.35,114.23 588.53,114.45 589.70,114.69 590.87,114.96 592.03,115.27 593.19,115.60 594.34,115.97 595.48,116.36 596.61,116.79 597.73,117.24 598.84,117.72 599.93,118.22 601.00,118.76 602.06,119.32 603.10,119.91 604.12,120.52 605.12,121.15 606.10,121.81 607.05,122.49 607.98,123.19 608.88,123.91 609.76,124.65 610.61,125.42 611.43,126.19 612.22,126.99 612.98,127.80 613.70,128.63 614.40,129.47 615.06,130.33 615.69,131.19 616.28,132.07 616.83,132.96 617.35,133.85 617.84,134.76 618.28,135.67 618.69,136.59 619.05,137.51 619.38,138.43 619.67,139.36 619.92,140.28 620.13,141.21 620.30,142.14 620.43,143.06 620.51,143.98 620.56,144.90 620.56,145.80 620.53,146.71 620.45,147.60 620.33,148.49 620.17,149.36 619.97,150.23 619.73,151.08 619.45,151.92"/></clipPath>
<g clip-path="url(#h140)">
<polygon points="582.29,113.19 583.49,113.27 584.70,113.38 585.91,113.53 587.12,113.71 588.33,113.92 589.54,114.16 590.74,114.44 591.94,114.75 593.14,115.09 594.32,115.46 595.50,115.86 596.67,116.29 597.82,116.76 598.96,117.25 600.09,117.77 601.20,118.32 602.29,118.89 603.36,119.49 604.41,120.12 605.44,120.77 606.45,121.45 607.43,122.15 608.39,122.87 609.32,123.62 610.22,124.38 611.09,125.17 611.93,125.97 612.75,126.79 613.53,127.63 614.27,128.48 614.98,129.35 615.66,130.23 616.30,131.13 616.91,132.03 617.48,132.95 618.00,133.87 618.50,134.81 618.95,135.75 619.36,136.69 619.73,137.64 620.06,138.59 620.35,139.55 620.60,140.50 620.80,141.46 620.96,142.41 621.08,143.36 621.16,144.31 621.20,145.25 621.19,146.18 621.14,147.11 621.05,148.03 620.91,148.94 620.74,149.84 620.52,150.72 620.25,151.60 619.95,152.45 619.61,153.30 619.22,154.13 618.80,154.94 618.33,155.73 617.83,156.50 617.28,157.25 616.70,157.98 616.09,158.69 615.43,159.38 614.74,160.04 602.12,177.57 602.64,176.96 603.12,176.32 603.58,175.67 604.01,174.99 604.41,174.29 604.78,173.58 605.13,172.84 605.44,172.09 605.73,171.33 605.98,170.55 606.21,169.75 606.40,168.94 606.56,168.12 606.69,167.29 606.79,166.45 606.86,165.60 606.90,164.74 606.91,163.87 606.88,163.00 606.82,162.12 606.73,161.24 606.61,160.36 606.46,159.48 606.28,158.59 606.06,157.71 605.82,156.83 605.54,155.95 605.24,155.08 604.90,154.21 604.54,153.34 604.15,152.49 603.73,151.64 603.28,150.80 602.80,149.97 602.30,149.16 601.78,148.35 601.22,147.56 600.64,146.79 600.04,146.03 599.42,145.28 598.77,144.56 598.10,143.85 597.42,143.16 596.71,142.49 595.98,141.84 595.23,141.21 594.47,140.61 593.69,140.03 592.90,139.47 592.09,138.94 591.27,138.43 590.43,137.95 589.59,137.49 588.73,137.06 587.87,136.66 587.00,136.29 586.12,135.95 585.24,135.63 584.35,135.35 583.45,135.09 582.56,134.86 581.66,134.67 580.77,134.50 579.87,134.37 578.98,134.26 578.09,134.19" fill="#5b68b8" stroke="#5b68b8" stroke-width="0.4"/>
<polygon points="614.74,160.04 614.00,160.70 613.21,161.33 612.40,161.93 611.55,162.50 610.66,163.04 609.75,163.56 608.80,164.04 607.83,164.49 606.82,164.91 605.80,165.29 604.74,165.64 603.66,165.96 602.56,166.25 601.44,166.50 600.31,166.71 599.15,166.89 597.98,167.04 596.79,167.15 595.59,167.22 594.37,167.26 593.15,167.26 591.92,167.23 585.22,184.23 586.13,184.26 587.04,184.25 587.93,184.22 588.82,184.15 589.70,184.05 590.57,183.92 591.43,183.75 592.27,183.55 593.10,183.32 593.92,183.05 594.72,182.76 595.50,182.43 596.26,182.08 597.00,181.69 597.72,181.27 598.42,180.83 599.10,180.35 599.76,179.85 600.39,179.32 600.99,178.76 601.57,178.18 602.12,177.57" fill="#40b3f7" stroke="#40b3f7" stroke-width="0.4"/>
<polygon points="591.92,167.23 590.66,167.16 589.39,167.05 588.12,166.90 586.84,166.72 585.57,166.50 584.30,166.25 583.03,165.96 581.77,165.63 580.51,165.27 579.26,164.87 578.03,164.44 576.80,163.98 575.59,163.48 574.40,162.95 572.24,180.27 573.12,180.76 574.02,181.22 574.93,181.65 575.84,182.04 576.77,182.41 577.70,182.75 578.63,183.05 579.57,183.32 580.51,183.55 581.46,183.76 582.40,183.92 583.34,184.06 584.28,184.16 585.22,184.23" fill="#dda06a" stroke="#dda06a" stroke-width="0.4"/>
<polygon points="574.40,162.95 573.28,162.42 572.18,161.87 571.11,161.28 570.05,160.67 569.01,160.04 567.99,159.38 567.00,158.70 566.03,157.99 565.08,157.27 564.17,156.52 563.28,155.75 562.42,154.96 561.59,154.16 562.75,172.12 563.37,172.87 564.00,173.60 564.66,174.31 565.34,175.00 566.04,175.68 566.76,176.33 567.49,176.96 568.25,177.57 569.02,178.16 569.80,178.72 570.60,179.26 571.41,179.78 572.24,180.27" fill="#7dd0aa" stroke="#7dd0aa" stroke-width="0.4"/>
<polygon points="561.59,154.16 560.58,153.10 559.62,152.02 561.29,170.15 562.00,171.15 562.75,172.12" fill="#6f6ce0" stroke="#6f6ce0" stroke-width="0.4"/>
<polygon points="559.62,152.02 558.90,151.16 558.22,150.27 557.57,149.38 556.96,148.47 556.39,147.56 555.85,146.63 555.36,145.70 554.90,144.76 554.48,143.81 554.11,142.86 553.77,141.90 553.48,140.95 553.23,139.99 553.02,139.03 552.85,138.08 552.72,137.12 552.64,136.17 552.60,135.23 552.61,134.29 552.65,133.36 552.74,132.44 552.88,131.53 553.05,130.63 553.27,129.74 553.53,128.86 553.83,128.00 554.17,127.15 554.56,126.32 554.98,125.51 555.44,124.71 555.95,123.94 556.49,123.18 557.07,122.45 557.69,121.74 558.34,121.05 559.03,120.38 559.75,119.74 560.51,119.13 561.30,118.54 562.13,117.98 562.98,117.45 563.87,116.95 564.78,116.47 565.72,116.02 566.69,115.61 567.68,115.22 568.70,114.87 569.74,114.55 570.80,114.26 571.88,114.00 572.98,113.78 574.10,113.59 575.23,113.43 576.38,113.31 577.54,113.22 578.72,113.16 579.90,113.14 581.09,113.15 582.29,113.19 578.09,134.19 577.20,134.15 576.31,134.14 575.44,134.16 574.57,134.21 573.71,134.30 572.86,134.41 572.02,134.56 571.19,134.74 570.38,134.94 569.57,135.18 568.79,135.45 568.02,135.75 567.27,136.07 566.53,136.43 565.81,136.82 565.12,137.23 564.44,137.67 563.78,138.13 563.15,138.63 562.54,139.15 561.95,139.69 561.39,140.26 560.86,140.85 560.34,141.47 559.86,142.10 559.40,142.76 558.97,143.44 558.57,144.14 558.20,144.86 557.85,145.60 557.54,146.35 557.26,147.12 557.00,147.90 556.78,148.70 556.59,149.51 556.43,150.34 556.30,151.17 556.20,152.01 556.13,152.87 556.10,153.73 556.09,154.60 556.12,155.47 556.18,156.35 556.28,157.23 556.40,158.12 556.56,159.01 556.74,159.89 556.96,160.78 557.21,161.66 557.49,162.54 557.80,163.42 558.13,164.29 558.50,165.15 558.90,166.01 559.32,166.86 559.78,167.70 560.25,168.53 560.76,169.34 561.29,170.15" fill="#e89bce" stroke="#e89bce" stroke-width="0.4"/>
<polygon points="612.21,170.26 611.91,171.03 611.57,171.80 611.20,172.55 610.78,173.28 610.34,173.99 609.86,174.69 609.34,175.37 608.79,176.03 608.21,176.66 607.59,177.28 606.94,177.88 606.26,178.45 605.55,179.00 604.81,179.52 604.05,180.02 603.25,180.49 602.43,180.94 601.59,181.36 600.72,181.76 599.82,182.13 598.90,182.46 597.97,182.78 597.01,183.06 596.03,183.31 595.04,183.53 594.03,183.73 593.00,183.89 591.96,184.03 590.91,184.13 589.84,184.20 588.77,184.25 587.69,184.26 586.59,184.24 585.50,184.19 584.40,184.11 583.29,184.00 582.18,183.87 581.07,183.70 579.97,183.50 578.86,183.27 577.76,183.01 576.66,182.72 575.57,182.41 574.48,182.06 573.40,181.69 572.34,181.29 571.28,180.86 570.24,180.41 569.21,179.93 568.19,179.43 567.20,178.90 566.21,178.35 565.25,177.77 564.31,177.17 563.39,176.55 562.49,175.91 561.61,175.25 560.76,174.57 559.93,173.87 559.13,173.15 558.36,172.41 557.61,171.66 556.90,170.90 556.21,170.11 555.56,169.32 554.93,168.51 554.34,167.70 553.78,166.87 553.26,166.03 552.77,165.19 552.32,164.33 551.90,163.47 551.51,162.61 551.17,161.74 550.86,160.87 550.58,160.00 550.35,159.12 550.15,158.25 549.99,157.37 549.87,156.50 549.79,155.63 549.75,154.77 549.74,153.91 549.78,153.06 549.85,152.22 549.96,151.38 550.11,150.55 550.30,149.74 550.53,148.94 550.79,148.14 551.09,147.37 551.43,146.60 551.80,145.85 552.22,145.12 552.66,144.41 553.14,143.71 553.66,143.03 554.21,142.37 554.79,141.74 555.41,141.12 556.06,140.52 556.74,139.95 557.45,139.40 558.19,138.88 558.95,138.38 559.75,137.91 560.57,137.46 561.41,137.04 562.28,136.64 563.18,136.27 564.10,135.94 565.03,135.62 565.99,135.34 566.97,135.09 567.96,134.87 568.97,134.67 570.00,134.51 571.04,134.37 572.09,134.27 573.16,134.20 574.23,134.15 575.31,134.14 576.41,134.16 577.50,134.21 578.60,134.29 579.71,134.40 580.82,134.53 581.93,134.70 583.03,134.90 584.14,135.13 585.24,135.39 586.34,135.68 587.43,135.99 588.52,136.34 589.60,136.71 590.66,137.11 591.72,137.54 592.76,137.99 593.79,138.47 594.81,138.97 595.80,139.50 596.79,140.05 597.75,140.63 598.69,141.23 599.61,141.85 600.51,142.49 601.39,143.15 602.24,143.83 603.07,144.53 603.87,145.25 604.64,145.99 605.39,146.74 606.10,147.50 606.79,148.29 607.44,149.08 608.07,149.89 608.66,150.70 609.22,151.53 609.74,152.37 610.23,153.21 610.68,154.07 611.10,154.93 611.49,155.79 611.83,156.66 612.14,157.53 612.42,158.40 612.65,159.28 612.85,160.15 613.01,161.03 613.13,161.90 613.21,162.77 613.25,163.63 613.26,164.49 613.22,165.34 613.15,166.18 613.04,167.02 612.89,167.85 612.70,168.66 612.47,169.46 612.21,170.26" fill="#fff"/>
</g>
<polygon points="567.63,66.50 570.86,66.52 574.12,66.64 577.39,66.84 580.67,67.14 583.96,67.53 587.25,68.01 590.54,68.57 593.83,69.23 597.11,69.98 600.37,70.81 603.62,71.73 606.85,72.73 610.06,73.82 613.23,74.99 616.38,76.24 619.48,77.57 622.55,78.98 625.57,80.47 628.54,82.03 631.46,83.66 634.33,85.36 637.13,87.13 639.88,88.97 642.56,90.87 645.17,92.83 647.70,94.85 650.17,96.92 652.55,99.05 654.85,101.23 657.07,103.46 659.20,105.74 661.24,108.06 663.19,110.41 665.04,112.81 666.79,115.24 668.45,117.70 670.00,120.18 671.46,122.70 672.80,125.23 674.04,127.78 675.17,130.35 676.20,132.93 677.11,135.52 677.91,138.12 678.59,140.72 679.16,143.31 679.62,145.91 679.96,148.49 680.19,151.07 680.30,153.63 680.29,156.18 680.17,158.71 679.93,161.21 679.58,163.69 679.11,166.13 678.53,168.55 677.83,170.93 677.02,173.27 676.10,175.57 675.07,177.83 673.92,180.04 672.67,182.20 671.32,184.31 669.85,186.36 668.29,188.36 666.62,190.30 664.86,192.17 612.68,158.57 613.32,157.96 613.92,157.32 614.50,156.67 615.03,155.99 615.54,155.29 616.00,154.58 616.43,153.84 616.83,153.09 617.18,152.33 617.50,151.55 617.78,150.75 618.03,149.94 618.23,149.12 618.39,148.29 618.52,147.45 618.60,146.60 618.65,145.74 618.66,144.87 618.62,144.00 618.55,143.12 618.44,142.24 618.29,141.36 618.10,140.48 617.87,139.59 617.60,138.71 617.30,137.83 616.95,136.95 616.57,136.08 616.16,135.21 615.70,134.34 615.21,133.49 614.69,132.64 614.12,131.80 613.53,130.97 612.90,130.16 612.24,129.35 611.55,128.56 610.83,127.79 610.08,127.03 609.30,126.28 608.49,125.56 607.66,124.85 606.79,124.16 605.91,123.49 605.00,122.84 604.07,122.21 603.11,121.61 602.14,121.03 601.15,120.47 600.14,119.94 599.11,119.43 598.07,118.95 597.01,118.49 595.94,118.06 594.86,117.66 593.77,117.29 592.68,116.95 591.57,116.63 590.46,116.35 589.34,116.09 588.22,115.86 587.10,115.67 585.98,115.50 584.86,115.37 583.75,115.26 582.63,115.19" fill="#5f87e0" stroke="#5f87e0" stroke-width="0.4"/>
<polygon points="664.86,192.17 662.94,194.03 660.93,195.82 658.81,197.54 656.61,199.18 654.31,200.74 651.92,202.22 649.45,203.62 646.90,204.94 644.26,206.18 641.55,207.32 638.77,208.38 635.93,209.35 633.01,210.23 630.04,211.02 627.01,211.71 623.93,212.31 620.80,212.82 617.62,213.23 614.40,213.54 611.15,213.76 607.87,213.88 604.56,213.90 601.22,213.83 597.87,213.66 591.55,165.23 592.69,165.26 593.82,165.25 594.94,165.22 596.06,165.15 597.15,165.05 598.24,164.92 599.31,164.75 600.37,164.55 601.40,164.32 602.42,164.05 603.42,163.76 604.40,163.43 605.35,163.08 606.28,162.69 607.18,162.27 608.05,161.83 608.90,161.35 609.72,160.85 610.51,160.32 611.26,159.76 611.99,159.18 612.68,158.57" fill="#49c1fb" stroke="#49c1fb" stroke-width="0.4"/>
<polygon points="597.87,213.66 594.55,213.40 591.22,213.05 587.88,212.60 584.54,212.06 581.20,211.42 577.88,210.70 574.56,209.89 571.26,208.99 567.98,208.00 564.72,206.92 561.49,205.76 558.30,204.51 555.14,203.18 552.02,201.78 575.32,161.27 576.43,161.76 577.55,162.22 578.68,162.65 579.83,163.04 580.98,163.41 582.15,163.75 583.32,164.05 584.49,164.32 585.67,164.55 586.85,164.76 588.03,164.92 589.20,165.06 590.38,165.16 591.55,165.23" fill="#e9ac7d" stroke="#e9ac7d" stroke-width="0.4"/>
<polygon points="552.02,201.78 549.01,200.32 546.06,198.80 543.15,197.20 540.29,195.54 537.50,193.80 534.76,192.01 532.09,190.14 529.48,188.22 526.94,186.24 524.48,184.20 522.09,182.11 519.78,179.97 517.55,177.78 515.41,175.54 563.47,153.12 564.23,153.87 565.03,154.60 565.85,155.31 566.70,156.00 567.57,156.68 568.47,157.33 569.39,157.96 570.33,158.57 571.29,159.16 572.28,159.72 573.27,160.26 574.29,160.78 575.32,161.27" fill="#77d9b4" stroke="#77d9b4" stroke-width="0.4"/>
<polygon points="515.41,175.54 513.58,173.52 511.83,171.47 561.64,151.15 562.53,152.15 563.47,153.12" fill="#7a78e8" stroke="#7a78e8" stroke-width="0.4"/>
<polygon points="511.83,171.47 509.92,169.11 508.11,166.71 506.40,164.29 504.79,161.83 503.28,159.34 501.87,156.83 500.56,154.30 499.37,151.76 498.27,149.19 497.29,146.62 496.42,144.04 495.66,141.46 495.02,138.87 494.48,136.29 494.06,133.71 493.76,131.13 493.57,128.57 493.49,126.03 493.53,123.50 493.68,120.99 493.95,118.50 494.34,116.05 494.83,113.62 495.44,111.22 496.17,108.86 497.00,106.54 497.95,104.26 499.00,102.02 500.17,99.84 501.44,97.70 502.81,95.61 504.29,93.58 505.87,91.60 507.55,89.69 509.33,87.84 511.20,86.05 513.17,84.33 515.23,82.68 517.38,81.09 519.61,79.59 521.92,78.15 524.32,76.79 526.79,75.52 529.33,74.32 531.95,73.20 534.63,72.16 537.38,71.21 540.19,70.34 543.06,69.56 545.98,68.86 548.95,68.26 551.97,67.74 555.03,67.31 558.13,66.97 561.27,66.72 564.43,66.56 567.63,66.50 582.63,115.19 581.52,115.15 580.42,115.14 579.32,115.16 578.24,115.21 577.16,115.30 576.10,115.41 575.05,115.56 574.01,115.74 572.99,115.94 571.99,116.18 571.01,116.45 570.05,116.75 569.11,117.07 568.19,117.43 567.29,117.82 566.42,118.23 565.57,118.67 564.75,119.13 563.96,119.63 563.20,120.15 562.47,120.69 561.77,121.26 561.09,121.85 560.46,122.47 559.85,123.10 559.28,123.76 558.74,124.44 558.24,125.14 557.77,125.86 557.34,126.60 556.95,127.35 556.60,128.12 556.28,128.90 556.00,129.70 555.76,130.51 555.56,131.34 555.40,132.17 555.27,133.01 555.19,133.87 555.15,134.73 555.14,135.60 555.18,136.47 555.26,137.35 555.37,138.23 555.53,139.12 555.72,140.01 555.95,140.89 556.23,141.78 556.54,142.66 556.88,143.54 557.27,144.42 557.69,145.29 558.15,146.15 558.65,147.01 559.18,147.86 559.74,148.70 560.34,149.53 560.98,150.34 561.64,151.15" fill="#f2b0d8" stroke="#f2b0d8" stroke-width="0.4"/>
<polygon points="678.83,436.22 679.35,438.80 679.76,441.37 680.06,443.94 680.24,446.49 680.31,449.03 680.26,451.56 680.10,454.06 679.83,456.54 679.44,458.99 678.94,461.41 678.32,463.80 677.60,466.15 676.76,468.47 675.81,470.74 674.75,472.97 673.58,475.15 672.31,477.28 670.94,479.36 669.46,481.39 667.88,483.36 666.20,485.27 664.42,487.11 662.55,488.90 660.58,490.61 658.52,492.26 656.46,506.63 658.58,504.60 660.60,502.49 662.51,500.32 664.32,498.07 666.01,495.76 667.60,493.38 669.07,490.95 670.43,488.47 671.67,485.93 672.78,483.35 673.78,480.72 674.66,478.05 677.60,466.15 678.32,463.80 678.94,461.41 679.44,458.99 679.83,456.54 680.10,454.06 680.26,451.56 680.31,449.03 680.24,446.49 680.06,443.94 679.76,441.37 679.35,438.80 678.83,436.22" fill="#3eaef5" stroke="#3eaef5" stroke-width="0.4"/>
<polygon points="658.52,492.26 656.35,493.86 654.08,495.38 651.73,496.83 649.30,498.20 646.79,499.49 644.21,500.70 641.55,501.83 638.82,502.87 636.03,503.82 633.17,504.69 630.26,505.46 627.29,506.15 624.27,506.75 621.20,507.26 618.09,507.67 614.94,507.99 611.76,508.22 608.54,508.36 605.30,508.41 602.03,508.36 598.74,508.21 595.44,507.98 592.13,507.65 588.81,507.23 585.49,506.72 582.17,506.12 578.86,505.42 575.55,504.64 572.27,503.77 569.00,502.81 565.75,501.77 562.53,500.64 559.34,499.43 556.18,498.13 553.06,496.76 549.99,495.31 546.96,493.78 543.99,492.17 541.07,490.50 538.20,488.75 535.40,486.94 532.66,485.05 529.99,483.11 527.39,481.10 524.87,479.04 522.43,476.92 515.83,493.29 518.26,495.58 520.78,497.80 523.37,499.96 526.04,502.04 528.78,504.05 531.59,505.98 534.47,507.83 537.41,509.60 540.41,511.29 543.46,512.89 546.49,514.54 549.55,516.15 552.68,517.67 555.87,519.09 559.12,520.41 562.41,521.64 565.75,522.75 569.13,523.76 572.54,524.67 575.97,525.46 579.43,526.13 582.90,526.69 586.39,527.14 589.87,527.47 593.35,527.69 596.83,527.78 600.28,527.76 603.72,527.62 607.14,527.37 610.52,527.00 613.86,526.52 617.16,525.92 620.42,525.21 623.62,524.39 626.77,523.46 629.86,522.42 632.88,521.28 635.83,520.03 638.71,518.69 641.51,517.24 644.23,515.70 646.86,514.06 649.40,512.33 651.85,510.52 654.20,508.62 656.46,506.63" fill="#d0905d" stroke="#d0905d" stroke-width="0.4"/>
<polygon points="522.43,476.92 520.11,474.78 517.86,472.59 515.71,470.36 513.64,468.08 511.66,465.77 509.77,463.41 507.97,461.02 506.28,458.60 504.68,456.15 503.18,453.67 501.78,451.17 500.49,448.65 499.30,446.11 498.22,443.56 497.25,441.00 496.39,438.43 495.64,435.85 495.00,433.27 494.47,430.70 494.05,428.13 493.75,425.57 493.56,423.02 493.49,420.48 493.53,417.96 493.69,415.46 493.95,412.99 494.34,410.54 494.83,408.12 495.44,405.74 496.16,403.38 496.99,401.07 497.93,398.80 498.98,396.57 500.14,394.39 501.40,392.26 502.76,390.18 504.23,388.15 505.80,386.18 507.47,384.27 509.24,382.43 511.10,380.64 513.06,378.92 515.10,377.27 515.10,377.27 513.06,378.92 511.10,380.64 509.24,382.43 507.47,384.27 505.80,386.18 504.23,388.15 502.76,390.18 501.40,392.26 500.14,394.39 498.98,396.57 497.93,398.80 496.99,401.07 496.14,403.41 495.32,405.96 494.50,408.72 493.71,411.70 492.96,414.86 492.25,418.20 491.60,421.69 491.03,425.29 490.55,428.99 490.18,432.74 489.94,436.50 489.84,440.23 489.90,443.89 490.14,447.42 490.59,450.77 491.26,453.89 492.15,456.76 493.17,459.59 494.30,462.39 495.54,465.17 496.89,467.93 498.34,470.65 499.90,473.34 501.55,476.00 503.31,478.61 505.17,481.18 507.12,483.71 509.16,486.19 511.30,488.61 513.52,490.98 515.83,493.29" fill="#6ccaa8" stroke="#6ccaa8" stroke-width="0.4"/>
<clipPath id="h434"><polygon points="619.45,446.42 619.13,447.24 618.78,448.05 618.38,448.85 617.94,449.62 617.47,450.38 616.96,451.12 616.41,451.84 615.83,452.54 615.21,453.21 614.55,453.87 613.87,454.50 613.15,455.10 612.40,455.68 611.61,456.24 610.80,456.77 609.96,457.27 609.09,457.75 608.19,458.19 607.27,458.61 606.32,459.00 605.35,459.36 604.35,459.69 603.34,459.99 602.30,460.26 601.25,460.49 600.18,460.70 599.09,460.87 597.99,461.02 596.87,461.13 595.74,461.20 594.60,461.25 593.46,461.26 592.30,461.24 591.14,461.19 589.97,461.11 588.80,460.99 587.62,460.85 586.45,460.67 585.27,460.45 584.10,460.21 582.93,459.94 581.77,459.63 580.61,459.30 579.46,458.93 578.32,458.54 577.19,458.11 576.07,457.66 574.96,457.18 573.87,456.68 572.80,456.14 571.74,455.58 570.70,454.99 569.68,454.38 568.68,453.75 567.70,453.09 566.75,452.41 565.82,451.71 564.92,450.99 564.04,450.25 563.19,449.48 562.37,448.71 561.58,447.91 560.82,447.10 560.10,446.27 559.40,445.43 558.74,444.57 558.11,443.71 557.52,442.83 556.97,441.94 556.45,441.05 555.96,440.14 555.52,439.23 555.11,438.31 554.75,437.39 554.42,436.47 554.13,435.54 553.88,434.62 553.67,433.69 553.50,432.76 553.37,431.84 553.29,430.92 553.24,430.00 553.24,429.10 553.27,428.19 553.35,427.30 553.47,426.41 553.63,425.54 553.83,424.67 554.07,423.82 554.35,422.98 554.67,422.16 555.02,421.35 555.42,420.55 555.86,419.78 556.33,419.02 556.84,418.28 557.39,417.56 557.97,416.86 558.59,416.19 559.25,415.53 559.93,414.90 560.65,414.30 561.40,413.72 562.19,413.16 563.00,412.63 563.84,412.13 564.71,411.65 565.61,411.21 566.53,410.79 567.48,410.40 568.45,410.04 569.45,409.71 570.46,409.41 571.50,409.14 572.55,408.91 573.62,408.70 574.71,408.53 575.81,408.38 576.93,408.27 578.06,408.20 579.20,408.15 580.34,408.14 581.50,408.16 582.66,408.21 583.83,408.29 585.00,408.41 586.18,408.55 587.35,408.73 588.53,408.95 589.70,409.19 590.87,409.46 592.03,409.77 593.19,410.10 594.34,410.47 595.48,410.86 596.61,411.29 597.73,411.74 598.84,412.22 599.93,412.72 601.00,413.26 602.06,413.82 603.10,414.41 604.12,415.02 605.12,415.65 606.10,416.31 607.05,416.99 607.98,417.69 608.88,418.41 609.76,419.15 610.61,419.92 611.43,420.69 612.22,421.49 612.98,422.30 613.70,423.13 614.40,423.97 615.06,424.83 615.69,425.69 616.28,426.57 616.83,427.46 617.35,428.35 617.84,429.26 618.28,430.17 618.69,431.09 619.05,432.01 619.38,432.93 619.67,433.86 619.92,434.78 620.13,435.71 620.30,436.64 620.43,437.56 620.51,438.48 620.56,439.40 620.56,440.30 620.53,441.21 620.45,442.10 620.33,442.99 620.17,443.86 619.97,444.73 619.73,445.58 619.45,446.42"/></clipPath>
<g clip-path="url(#h434)">
<polygon points="583.08,407.74 584.28,407.84 585.49,407.97 586.70,408.14 587.91,408.34 589.12,408.57 590.32,408.84 591.53,409.13 592.72,409.46 593.91,409.82 595.09,410.22 596.26,410.64 597.42,411.09 598.56,411.57 599.69,412.08 600.81,412.62 601.90,413.19 602.98,413.78 604.04,414.40 605.08,415.04 606.09,415.71 607.08,416.40 608.05,417.11 608.99,417.85 609.90,418.61 610.78,419.39 611.64,420.18 612.46,421.00 613.25,421.83 614.01,422.68 614.73,423.54 615.42,424.41 616.08,425.30 616.69,426.20 617.27,427.12 617.82,428.04 618.32,428.97 618.79,429.90 619.21,430.84 619.60,431.79 619.94,432.74 620.25,433.70 620.51,434.65 620.73,435.60 620.91,436.56 621.05,437.51 621.14,438.46 621.19,439.40 621.20,440.34 621.16,441.27 621.09,442.19 620.97,443.10 620.81,444.00 620.60,444.89 620.36,445.77 620.07,446.64 619.74,447.48 619.37,448.32 618.96,449.13 618.51,449.93 618.02,450.71 617.49,451.47 616.93,452.21 616.32,452.93 615.68,453.62 615.01,454.29 614.30,454.94 613.55,455.56 601.24,473.01 601.80,472.44 602.32,471.84 602.82,471.22 603.30,470.58 603.74,469.91 604.16,469.23 604.55,468.53 604.92,467.80 605.25,467.06 605.55,466.31 605.83,465.54 606.07,464.75 606.28,463.95 606.46,463.14 606.62,462.31 606.74,461.48 606.82,460.63 606.88,459.78 606.91,458.92 606.90,458.05 606.86,457.18 606.79,456.30 606.69,455.42 606.56,454.54 606.40,453.65 606.20,452.77 605.98,451.89 605.72,451.01 605.44,450.13 605.12,449.26 604.78,448.39 604.40,447.53 604.00,446.68 603.57,445.83 603.11,445.00 602.63,444.18 602.12,443.36 601.58,442.57 601.02,441.78 600.43,441.01 599.82,440.26 599.19,439.52 598.54,438.80 597.86,438.10 597.17,437.42 596.45,436.76 595.72,436.11 594.96,435.50 594.20,434.90 593.41,434.33 592.61,433.78 591.80,433.26 590.98,432.76 590.14,432.28 589.29,431.84 588.43,431.42 587.57,431.03 586.69,430.67 585.81,430.33 584.93,430.03 584.04,429.75 583.14,429.51 582.25,429.29 581.35,429.11 580.46,428.95 579.56,428.83 578.67,428.74" fill="#49a9fa" stroke="#49a9fa" stroke-width="0.4"/>
<polygon points="613.55,455.56 612.78,456.15 611.98,456.71 611.14,457.25 610.28,457.76 609.39,458.24 608.47,458.70 607.52,459.12 606.55,459.51 605.55,459.88 604.53,460.21 603.49,460.51 602.43,460.78 601.35,461.02 600.25,461.22 599.14,461.39 598.01,461.53 596.86,461.64 595.71,461.71 594.54,461.76 593.37,461.76 592.19,461.74 591.00,461.68 589.80,461.59 588.60,461.46 587.40,461.31 586.20,461.12 585.00,460.89 583.80,460.64 582.61,460.35 581.42,460.03 580.24,459.69 579.07,459.31 577.90,458.90 576.75,458.46 575.61,457.99 574.48,457.49 573.37,456.97 572.27,456.41 571.20,455.84 570.14,455.23 569.10,454.60 568.09,453.95 567.09,453.27 566.13,452.57 565.18,451.85 564.27,451.10 563.38,450.34 562.52,449.56 563.44,467.45 564.08,468.18 564.74,468.89 565.41,469.58 566.11,470.24 566.83,470.89 567.56,471.52 568.32,472.13 569.08,472.71 569.87,473.27 570.67,473.81 571.48,474.32 572.30,474.80 573.14,475.26 573.98,475.70 574.83,476.10 575.70,476.48 576.57,476.83 577.44,477.16 578.32,477.45 579.21,477.72 580.09,477.95 580.98,478.16 581.87,478.33 582.76,478.48 583.65,478.60 584.53,478.68 585.42,478.74 586.29,478.76 587.16,478.75 588.03,478.71 588.88,478.65 589.73,478.55 590.56,478.42 591.39,478.26 592.20,478.07 593.00,477.85 593.79,477.60 594.56,477.32 595.31,477.01 596.05,476.68 596.77,476.31 597.47,475.92 598.16,475.50 598.82,475.05 599.46,474.58 600.08,474.08 600.67,473.56 601.24,473.01" fill="#d0905d" stroke="#d0905d" stroke-width="0.4"/>
<polygon points="562.52,449.56 561.68,448.75 560.88,447.92 560.11,447.08 559.37,446.22 558.66,445.35 557.99,444.47 557.36,443.57 556.76,442.66 556.20,441.74 555.68,440.82 555.20,439.88 554.76,438.94 554.35,438.00 553.99,437.05 553.67,436.09 553.39,435.14 553.15,434.18 552.96,433.23 552.80,432.27 552.69,431.32 552.63,430.38 552.60,429.44 552.62,428.51 552.68,427.58 552.78,426.66 552.92,425.75 553.11,424.86 553.34,423.97 553.61,423.10 553.92,422.25 554.28,421.41 554.67,420.58 555.11,419.78 555.58,418.99 556.10,418.22 556.65,417.47 557.24,416.75 557.86,416.05 558.53,415.36 559.22,414.71 559.96,414.08 560.72,413.47 561.52,412.89 562.35,412.34 563.21,411.82 564.10,411.32 565.02,410.85 565.97,410.42 566.94,410.01 567.94,409.63 568.96,409.29 570.00,408.98 571.06,408.70 572.15,408.45 573.25,408.23 571.39,429.19 570.57,429.39 569.77,429.62 568.98,429.88 568.21,430.17 567.45,430.49 566.71,430.84 565.99,431.21 565.29,431.62 564.61,432.05 563.95,432.51 563.32,433.00 562.70,433.51 562.11,434.04 561.54,434.60 561.00,435.19 560.48,435.80 559.99,436.43 559.53,437.08 559.09,437.75 558.68,438.44 558.30,439.15 557.95,439.88 557.63,440.63 557.34,441.39 557.07,442.17 556.84,442.96 556.64,443.77 556.47,444.59 556.33,445.42 556.23,446.26 556.15,447.11 556.11,447.96 556.09,448.83 556.11,449.70 556.16,450.57 556.24,451.45 556.36,452.34 556.50,453.22 556.68,454.11 556.89,454.99 557.12,455.87 557.39,456.75 557.69,457.63 558.02,458.50 558.38,459.36 558.76,460.22 559.18,461.07 559.62,461.91 560.09,462.74 560.58,463.56 561.10,464.37 561.65,465.16 562.22,465.94 562.82,466.71 563.44,467.45" fill="#6ccfae" stroke="#6ccfae" stroke-width="0.4"/>
<polygon points="573.25,408.23 574.43,408.04 575.63,407.88 576.84,407.77 578.07,407.69 579.31,407.64 580.55,407.64 581.81,407.67 583.08,407.74 578.67,428.74 577.73,428.67 576.80,428.64 575.87,428.65 574.96,428.69 574.05,428.76 573.15,428.87 572.26,429.01 571.39,429.19" fill="#5565de" stroke="#5565de" stroke-width="0.4"/>
<polygon points="612.21,464.76 611.91,465.53 611.57,466.30 611.20,467.05 610.78,467.78 610.34,468.49 609.86,469.19 609.34,469.87 608.79,470.53 608.21,471.16 607.59,471.78 606.94,472.38 606.26,472.95 605.55,473.50 604.81,474.02 604.05,474.52 603.25,474.99 602.43,475.44 601.59,475.86 600.72,476.26 599.82,476.63 598.90,476.96 597.97,477.28 597.01,477.56 596.03,477.81 595.04,478.03 594.03,478.23 593.00,478.39 591.96,478.53 590.91,478.63 589.84,478.70 588.77,478.75 587.69,478.76 586.59,478.74 585.50,478.69 584.40,478.61 583.29,478.50 582.18,478.37 581.07,478.20 579.97,478.00 578.86,477.77 577.76,477.51 576.66,477.22 575.57,476.91 574.48,476.56 573.40,476.19 572.34,475.79 571.28,475.36 570.24,474.91 569.21,474.43 568.19,473.93 567.20,473.40 566.21,472.85 565.25,472.27 564.31,471.67 563.39,471.05 562.49,470.41 561.61,469.75 560.76,469.07 559.93,468.37 559.13,467.65 558.36,466.91 557.61,466.16 556.90,465.40 556.21,464.61 555.56,463.82 554.93,463.01 554.34,462.20 553.78,461.37 553.26,460.53 552.77,459.69 552.32,458.83 551.90,457.97 551.51,457.11 551.17,456.24 550.86,455.37 550.58,454.50 550.35,453.62 550.15,452.75 549.99,451.87 549.87,451.00 549.79,450.13 549.75,449.27 549.74,448.41 549.78,447.56 549.85,446.72 549.96,445.88 550.11,445.05 550.30,444.24 550.53,443.44 550.79,442.64 551.09,441.87 551.43,441.10 551.80,440.35 552.22,439.62 552.66,438.91 553.14,438.21 553.66,437.53 554.21,436.87 554.79,436.24 555.41,435.62 556.06,435.02 556.74,434.45 557.45,433.90 558.19,433.38 558.95,432.88 559.75,432.41 560.57,431.96 561.41,431.54 562.28,431.14 563.18,430.77 564.10,430.44 565.03,430.12 565.99,429.84 566.97,429.59 567.96,429.37 568.97,429.17 570.00,429.01 571.04,428.87 572.09,428.77 573.16,428.70 574.23,428.65 575.31,428.64 576.41,428.66 577.50,428.71 578.60,428.79 579.71,428.90 580.82,429.03 581.93,429.20 583.03,429.40 584.14,429.63 585.24,429.89 586.34,430.18 587.43,430.49 588.52,430.84 589.60,431.21 590.66,431.61 591.72,432.04 592.76,432.49 593.79,432.97 594.81,433.47 595.80,434.00 596.79,434.55 597.75,435.13 598.69,435.73 599.61,436.35 600.51,436.99 601.39,437.65 602.24,438.33 603.07,439.03 603.87,439.75 604.64,440.49 605.39,441.24 606.10,442.00 606.79,442.79 607.44,443.58 608.07,444.39 608.66,445.20 609.22,446.03 609.74,446.87 610.23,447.71 610.68,448.57 611.10,449.43 611.49,450.29 611.83,451.16 612.14,452.03 612.42,452.90 612.65,453.78 612.85,454.65 613.01,455.53 613.13,456.40 613.21,457.27 613.25,458.13 613.26,458.99 613.22,459.84 613.15,460.68 613.04,461.52 612.89,462.35 612.70,463.16 612.47,463.96 612.21,464.76" fill="#fff"/>
</g>
<polygon points="568.67,360.99 571.91,361.05 575.16,361.19 578.43,361.43 581.71,361.75 585.00,362.17 588.28,362.68 591.57,363.27 594.85,363.95 598.12,364.73 601.38,365.58 604.62,366.53 607.83,367.56 611.03,368.67 614.19,369.86 617.31,371.14 620.40,372.49 623.45,373.92 626.45,375.42 629.41,377.00 632.31,378.65 635.15,380.37 637.94,382.16 640.66,384.01 643.32,385.92 645.90,387.90 648.41,389.93 650.85,392.02 653.21,394.16 655.48,396.35 657.67,398.59 659.77,400.88 661.79,403.20 663.70,405.57 665.53,407.97 667.25,410.40 668.88,412.87 670.41,415.36 671.83,417.87 673.14,420.41 674.35,422.96 675.45,425.53 676.45,428.11 677.33,430.70 678.09,433.29 678.75,435.89 679.29,438.48 679.72,441.07 680.03,443.65 680.23,446.22 680.31,448.77 680.27,451.31 680.12,453.83 679.86,456.32 679.48,458.79 678.98,461.22 678.37,463.63 677.65,466.00 676.81,468.32 675.86,470.61 674.81,472.86 673.64,475.05 672.37,477.20 670.99,479.29 669.50,481.33 667.92,483.31 666.23,485.23 664.45,487.09 662.57,488.88 660.59,490.60 658.52,492.26 611.58,454.01 612.27,453.44 612.93,452.84 613.55,452.22 614.15,451.58 614.70,450.91 615.23,450.23 615.72,449.53 616.17,448.80 616.59,448.06 616.97,447.31 617.31,446.54 617.61,445.75 617.88,444.95 618.11,444.14 618.29,443.31 618.44,442.48 618.56,441.63 618.63,440.78 618.66,439.92 618.65,439.05 618.60,438.18 618.52,437.30 618.39,436.42 618.22,435.54 618.02,434.65 617.78,433.77 617.50,432.89 617.18,432.01 616.82,431.13 616.43,430.26 615.99,429.39 615.53,428.53 615.02,427.68 614.49,426.83 613.91,426.00 613.31,425.18 612.67,424.36 612.00,423.57 611.30,422.78 610.56,422.01 609.80,421.26 609.01,420.52 608.20,419.80 607.35,419.10 606.48,418.42 605.59,417.76 604.67,417.11 603.73,416.50 602.77,415.90 601.79,415.33 600.79,414.78 599.78,414.26 598.74,413.76 597.70,413.28 596.64,412.84 595.57,412.42 594.48,412.03 593.39,411.67 592.29,411.33 591.18,411.03 590.07,410.75 588.95,410.51 587.84,410.29 586.72,410.11 585.60,409.95 584.48,409.83 583.36,409.74" fill="#45befc" stroke="#45befc" stroke-width="0.4"/>
<polygon points="658.52,492.26 656.35,493.86 654.08,495.38 651.73,496.83 649.30,498.20 646.79,499.49 644.21,500.70 641.55,501.83 638.82,502.87 636.03,503.82 633.17,504.69 630.26,505.46 627.29,506.15 624.27,506.75 621.20,507.26 618.09,507.67 614.94,507.99 611.76,508.22 608.54,508.36 605.30,508.41 602.03,508.36 598.74,508.21 595.44,507.98 592.13,507.65 588.81,507.23 585.49,506.72 582.17,506.12 578.86,505.42 575.55,504.64 572.27,503.77 569.00,502.81 565.75,501.77 562.53,500.64 559.34,499.43 556.18,498.13 553.06,496.76 549.99,495.31 546.96,493.78 543.99,492.17 541.07,490.50 538.20,488.75 535.40,486.94 532.66,485.05 529.99,483.11 527.39,481.10 524.87,479.04 522.43,476.92 564.33,448.45 565.12,449.18 565.94,449.89 566.79,450.58 567.67,451.24 568.56,451.89 569.48,452.52 570.42,453.13 571.38,453.71 572.36,454.27 573.36,454.81 574.37,455.32 575.40,455.80 576.44,456.26 577.50,456.70 578.57,457.10 579.65,457.48 580.73,457.83 581.83,458.16 582.93,458.45 584.03,458.72 585.14,458.95 586.25,459.16 587.37,459.33 588.48,459.48 589.59,459.60 590.69,459.68 591.79,459.74 592.89,459.76 593.98,459.75 595.06,459.71 596.13,459.65 597.18,459.55 598.23,459.42 599.26,459.26 600.28,459.07 601.28,458.85 602.26,458.60 603.22,458.32 604.17,458.01 605.09,457.68 605.99,457.31 606.87,456.92 607.72,456.50 608.55,456.05 609.35,455.58 610.12,455.08 610.86,454.56 611.58,454.01" fill="#e4a97d" stroke="#e4a97d" stroke-width="0.4"/>
<polygon points="522.43,476.92 520.08,474.75 517.81,472.54 515.63,470.28 513.54,467.97 511.54,465.63 509.64,463.24 507.83,460.82 506.12,458.37 504.51,455.89 503.01,453.38 501.61,450.84 500.31,448.29 499.13,445.72 498.05,443.14 497.09,440.54 496.24,437.94 495.50,435.33 494.87,432.73 494.36,430.12 493.97,427.52 493.69,424.93 493.53,422.36 493.49,419.79 493.56,417.25 493.75,414.73 494.06,412.23 494.48,409.76 495.02,407.33 495.67,404.92 496.44,402.56 497.32,400.23 498.31,397.95 499.42,395.72 500.63,393.53 501.95,391.39 503.38,389.31 504.91,387.28 506.54,385.32 508.28,383.41 510.11,381.57 512.04,379.80 514.06,378.10 516.18,376.46 518.38,374.90 520.67,373.41 523.04,372.01 525.49,370.67 528.01,369.42 530.62,368.25 533.29,367.17 536.03,366.17 538.83,365.25 541.69,364.42 544.61,363.68 574.26,410.19 573.24,410.39 572.24,410.62 571.25,410.88 570.29,411.17 569.34,411.49 568.42,411.84 567.52,412.21 566.64,412.62 565.79,413.05 564.97,413.51 564.17,414.00 563.40,414.51 562.66,415.04 561.95,415.60 561.27,416.19 560.63,416.80 560.01,417.43 559.43,418.08 558.89,418.75 558.38,419.44 557.90,420.15 557.46,420.88 557.06,421.63 556.70,422.39 556.37,423.17 556.08,423.96 555.83,424.77 555.61,425.59 555.44,426.42 555.31,427.26 555.21,428.11 555.16,428.96 555.14,429.83 555.16,430.70 555.23,431.57 555.33,432.45 555.47,433.34 555.65,434.22 555.87,435.11 556.13,435.99 556.43,436.87 556.76,437.75 557.14,438.63 557.55,439.50 557.99,440.36 558.48,441.22 558.99,442.07 559.55,442.91 560.13,443.74 560.75,444.56 561.41,445.37 562.09,446.16 562.81,446.94 563.55,447.71 564.33,448.45" fill="#69d8b9" stroke="#69d8b9" stroke-width="0.4"/>
<polygon points="544.61,363.68 547.89,362.96 551.24,362.36 554.64,361.86 558.08,361.48 561.58,361.20 565.11,361.04 568.67,360.99 583.36,409.74 582.19,409.67 581.02,409.64 579.87,409.65 578.72,409.69 577.58,409.76 576.46,409.87 575.35,410.01 574.26,410.19" fill="#4a8ce4" stroke="#4a8ce4" stroke-width="0.4"/>
<polygon points="678.43,754.82 678.97,757.51 679.39,760.20 679.69,762.88 679.86,765.55 679.91,768.20 679.83,770.83 679.63,773.44 679.30,776.02 678.85,778.57 678.28,781.08 677.58,783.56 676.76,786.00 675.82,788.39 674.76,790.74 673.58,793.04 671.65,803.68 672.77,800.97 673.76,798.21 674.62,795.40 677.58,783.56 678.28,781.08 678.85,778.57 679.30,776.02 679.63,773.44 679.83,770.83 679.91,768.20 679.86,765.55 679.69,762.88 679.39,760.20 678.97,757.51 678.43,754.82" fill="#5f62d8" stroke="#5f62d8" stroke-width="0.4"/>
<polygon points="673.58,793.04 672.33,795.21 670.97,797.33 669.50,799.40 667.93,801.41 666.26,803.35 664.49,805.24 662.62,807.06 660.66,808.81 658.60,810.49 656.45,812.10 654.21,813.64 651.89,815.10 649.49,816.49 647.00,817.79 644.45,819.01 641.81,820.15 639.11,821.21 636.35,822.18 633.52,823.07 630.63,823.87 627.69,824.58 624.69,825.20 621.65,825.73 618.56,826.16 615.43,826.51 612.27,826.77 609.07,826.93 605.85,827.00 602.60,826.98 599.33,826.87 596.04,826.66 592.75,826.36 589.44,825.97 586.13,825.49 582.83,824.92 579.52,824.26 576.23,823.51 572.95,822.67 569.68,821.74 566.44,820.73 563.22,819.63 560.03,818.45 556.87,817.19 553.75,815.85 550.68,814.43 547.64,812.93 541.09,830.47 544.14,832.06 547.15,833.72 550.23,835.29 553.37,836.77 556.57,838.15 559.82,839.44 563.12,840.62 566.46,841.70 569.83,842.67 573.24,843.53 576.67,844.28 580.12,844.92 583.59,845.45 587.06,845.86 590.53,846.15 593.99,846.33 597.45,846.39 600.89,846.33 604.31,846.16 607.70,845.88 611.06,845.48 614.38,844.96 617.66,844.33 620.89,843.60 624.07,842.75 627.19,841.80 630.25,840.73 633.24,839.57 636.16,838.30 639.01,836.94 641.78,835.47 644.47,833.91 647.07,832.26 649.58,830.52 652.00,828.69 654.32,826.78 656.55,824.78 658.67,822.71 660.68,820.56 662.59,818.34 664.39,816.05 666.08,813.69 667.65,811.27 669.10,808.80 670.43,806.27 671.65,803.68" fill="#5468e0" stroke="#5468e0" stroke-width="0.4"/>
<polygon points="547.64,812.93 544.59,811.33 541.60,809.64 538.66,807.88 535.78,806.05 532.98,804.16 530.24,802.19 527.57,800.16 524.99,798.07 522.48,795.92 520.06,793.71 517.72,791.45 511.16,807.49 513.47,809.94 515.88,812.33 518.37,814.64 520.95,816.89 523.62,819.07 526.36,821.17 529.17,823.20 532.05,825.14 535.01,827.01 538.02,828.78 541.09,830.47" fill="#3daaf8" stroke="#3daaf8" stroke-width="0.4"/>
<polygon points="517.72,791.45 515.40,789.06 513.18,786.62 511.06,784.13 509.05,781.60 507.15,779.03 505.36,776.42 503.68,773.78 502.12,771.12 500.68,768.42 494.46,782.29 495.85,785.26 497.36,788.19 498.99,791.09 500.74,793.95 502.60,796.77 504.58,799.53 506.66,802.24 508.86,804.90 511.16,807.49" fill="#d08f55" stroke="#d08f55" stroke-width="0.4"/>
<polygon points="500.68,768.42 499.42,765.85 498.28,763.27 497.24,760.67 496.32,758.07 495.51,755.45 494.82,752.84 494.24,750.23 493.78,747.61 493.44,745.01 493.21,742.42 493.10,739.84 493.11,737.28 493.23,734.74 493.48,732.22 493.83,729.72 494.31,727.26 494.90,724.83 495.61,722.44 496.43,720.08 497.37,717.77 498.41,715.50 499.57,713.28 500.84,711.11 502.22,708.99 503.70,706.93 505.28,704.93 506.97,702.99 508.76,701.11 510.65,699.29 512.63,697.55 514.70,695.87 514.70,695.87 512.63,697.55 510.65,699.29 508.76,701.11 506.97,702.99 505.28,704.93 503.70,706.93 502.22,708.99 500.84,711.11 499.57,713.28 498.41,715.50 497.37,717.77 496.43,720.08 495.58,722.49 494.74,725.12 493.92,727.97 493.13,731.04 492.37,734.30 491.67,737.73 491.03,741.30 490.48,744.99 490.02,748.76 489.69,752.58 489.48,756.39 489.44,760.16 489.57,763.83 489.89,767.35 490.43,770.67 491.21,773.72 492.18,776.59 493.27,779.45 494.46,782.29" fill="#3e8f92" stroke="#3e8f92" stroke-width="0.4"/>
<clipPath id="h753"><polygon points="619.05,765.02 618.73,765.84 618.38,766.65 617.98,767.45 617.54,768.22 617.07,768.98 616.56,769.72 616.01,770.44 615.43,771.14 614.81,771.81 614.15,772.47 613.47,773.10 612.75,773.70 612.00,774.28 611.21,774.84 610.40,775.37 609.56,775.87 608.69,776.35 607.79,776.79 606.87,777.21 605.92,777.60 604.95,777.96 603.95,778.29 602.94,778.59 601.90,778.86 600.85,779.09 599.78,779.30 598.69,779.47 597.59,779.62 596.47,779.73 595.34,779.80 594.20,779.85 593.06,779.86 591.90,779.84 590.74,779.79 589.57,779.71 588.40,779.59 587.22,779.45 586.05,779.27 584.87,779.05 583.70,778.81 582.53,778.54 581.37,778.23 580.21,777.90 579.06,777.53 577.92,777.14 576.79,776.71 575.67,776.26 574.56,775.78 573.47,775.28 572.40,774.74 571.34,774.18 570.30,773.59 569.28,772.98 568.28,772.35 567.30,771.69 566.35,771.01 565.42,770.31 564.52,769.59 563.64,768.85 562.79,768.08 561.97,767.31 561.18,766.51 560.42,765.70 559.70,764.87 559.00,764.03 558.34,763.17 557.71,762.31 557.12,761.43 556.57,760.54 556.05,759.65 555.56,758.74 555.12,757.83 554.71,756.91 554.35,755.99 554.02,755.07 553.73,754.14 553.48,753.22 553.27,752.29 553.10,751.36 552.97,750.44 552.89,749.52 552.84,748.60 552.84,747.70 552.87,746.79 552.95,745.90 553.07,745.01 553.23,744.14 553.43,743.27 553.67,742.42 553.95,741.58 554.27,740.76 554.62,739.95 555.02,739.15 555.46,738.38 555.93,737.62 556.44,736.88 556.99,736.16 557.57,735.46 558.19,734.79 558.85,734.13 559.53,733.50 560.25,732.90 561.00,732.32 561.79,731.76 562.60,731.23 563.44,730.73 564.31,730.25 565.21,729.81 566.13,729.39 567.08,729.00 568.05,728.64 569.05,728.31 570.06,728.01 571.10,727.74 572.15,727.51 573.22,727.30 574.31,727.13 575.41,726.98 576.53,726.87 577.66,726.80 578.80,726.75 579.94,726.74 581.10,726.76 582.26,726.81 583.43,726.89 584.60,727.01 585.78,727.15 586.95,727.33 588.13,727.55 589.30,727.79 590.47,728.06 591.63,728.37 592.79,728.70 593.94,729.07 595.08,729.46 596.21,729.89 597.33,730.34 598.44,730.82 599.53,731.32 600.60,731.86 601.66,732.42 602.70,733.01 603.72,733.62 604.72,734.25 605.70,734.91 606.65,735.59 607.58,736.29 608.48,737.01 609.36,737.75 610.21,738.52 611.03,739.29 611.82,740.09 612.58,740.90 613.30,741.73 614.00,742.57 614.66,743.43 615.29,744.29 615.88,745.17 616.43,746.06 616.95,746.95 617.44,747.86 617.88,748.77 618.29,749.69 618.65,750.61 618.98,751.53 619.27,752.46 619.52,753.38 619.73,754.31 619.90,755.24 620.03,756.16 620.11,757.08 620.16,758.00 620.16,758.90 620.13,759.81 620.05,760.70 619.93,761.59 619.77,762.46 619.57,763.33 619.33,764.18 619.05,765.02"/></clipPath>
<g clip-path="url(#h753)">
<polygon points="612.15,739.69 612.95,740.53 613.71,741.40 614.44,742.28 615.14,743.17 615.80,744.08 616.42,745.00 617.00,745.93 617.55,746.87 618.05,747.81 618.51,748.77 618.93,749.73 619.31,750.69 619.65,751.66 619.94,752.63 620.20,753.60 620.40,754.57 620.57,755.54 620.69,756.51 620.77,757.47 620.80,758.43 620.79,759.38 620.73,760.32 620.63,761.25 620.49,762.18 620.30,763.09 620.07,763.99 619.80,764.87 619.48,765.74 619.12,766.60 618.72,767.43 618.27,768.25 617.79,769.05 604.28,786.89 604.64,786.15 604.96,785.39 605.26,784.61 605.53,783.82 605.76,783.02 605.97,782.20 606.14,781.36 606.28,780.52 606.38,779.66 606.46,778.80 606.50,777.93 606.51,777.05 606.48,776.16 606.43,775.27 606.34,774.38 606.21,773.48 606.06,772.58 605.87,771.68 605.66,770.78 605.41,769.89 605.12,768.99 604.81,768.10 604.47,767.22 604.10,766.34 603.69,765.47 603.26,764.61 602.80,763.76 602.31,762.92 601.80,762.09 601.26,761.28 600.69,760.48 600.10,759.69" fill="#6b5fdc" stroke="#6b5fdc" stroke-width="0.4"/>
<polygon points="617.79,769.05 617.27,769.83 616.71,770.58 616.11,771.31 615.48,772.02 614.81,772.70 614.10,773.36 613.36,773.99 612.58,774.60 611.77,775.18 610.93,775.74 610.06,776.26 609.15,776.76 608.22,777.22 607.26,777.66 606.28,778.06 605.27,778.44 604.24,778.78 603.18,779.09 602.10,779.36 601.00,779.61 599.89,779.82 598.76,779.99 597.61,780.13 596.45,780.24 595.27,780.32 594.09,780.36 592.89,780.36 591.69,780.33 590.48,780.27 589.26,780.17 588.04,780.04 586.82,779.88 585.60,779.68 584.38,779.45 583.16,779.18 581.95,778.88 580.74,778.55 579.54,778.19 578.35,777.80 577.17,777.37 576.00,776.92 574.85,776.43 573.70,775.92 572.58,775.37 570.79,792.74 571.62,793.24 572.47,793.72 573.32,794.17 574.19,794.59 575.06,794.98 575.95,795.35 576.84,795.68 577.73,795.99 578.63,796.27 579.53,796.51 580.43,796.73 581.34,796.91 582.24,797.06 583.14,797.18 584.05,797.27 584.94,797.33 585.83,797.36 586.72,797.35 587.60,797.32 588.47,797.25 589.33,797.15 590.18,797.01 591.02,796.85 591.84,796.66 592.66,796.43 593.46,796.18 594.24,795.89 595.00,795.57 595.75,795.23 596.48,794.85 597.19,794.45 597.88,794.02 598.55,793.56 599.20,793.07 599.82,792.56 600.42,792.02 600.99,791.46 601.54,790.87 602.07,790.26 602.57,789.63 603.04,788.98 603.48,788.30 603.89,787.60 604.28,786.89" fill="#5468e0" stroke="#5468e0" stroke-width="0.4"/>
<polygon points="572.58,775.37 571.37,774.75 570.18,774.09 569.01,773.39 567.87,772.67 566.77,771.92 565.69,771.14 564.64,770.33 563.62,769.50 564.15,787.30 564.91,788.07 565.68,788.82 566.48,789.54 567.30,790.24 568.15,790.90 569.01,791.55 569.89,792.16 570.79,792.74" fill="#3daaf8" stroke="#3daaf8" stroke-width="0.4"/>
<polygon points="563.62,769.50 562.72,768.71 561.84,767.89 561.00,767.06 560.19,766.22 559.42,765.35 558.68,764.47 557.97,763.58 559.97,781.82 560.49,782.64 561.04,783.46 561.61,784.26 562.21,785.04 562.84,785.81 563.48,786.56 564.15,787.30" fill="#d08f55" stroke="#d08f55" stroke-width="0.4"/>
<polygon points="557.97,763.58 557.33,762.70 556.71,761.81 556.14,760.90 555.60,759.99 555.10,759.07 554.64,758.14 554.21,757.21 553.83,756.27 553.48,755.33 553.18,754.39 552.91,753.44 552.69,752.50 552.51,751.55 552.37,750.61 552.27,749.67 552.21,748.74 552.20,747.81 552.23,746.89 552.30,745.97 552.41,745.07 552.56,744.17 552.75,743.29 552.99,742.42 553.26,741.56 553.58,740.71 553.94,739.88 554.33,739.07 554.77,738.28 555.24,737.50 555.75,736.74 556.30,736.00 556.89,735.29 557.51,734.59 558.17,733.92 558.86,733.27 559.59,732.65 560.35,732.05 561.14,731.48 561.96,730.93 562.81,730.41 563.69,729.92 564.60,729.46 565.54,729.03 566.50,728.63 567.48,728.25 568.49,727.91 569.52,727.60 570.57,727.32 571.65,727.07 572.73,726.85 573.84,726.67 574.96,726.52 576.10,726.40 577.24,726.31 578.40,726.26 579.57,726.24 580.75,726.25 581.93,726.29 583.12,726.37 584.32,726.48 585.51,726.63 586.71,726.80 587.91,727.01 589.11,727.25 590.30,727.53 591.49,727.83 592.67,728.17 593.84,728.53 595.01,728.93 596.17,729.35 597.31,729.81 598.44,730.29 599.55,730.80 600.65,731.34 601.74,731.91 602.80,732.50 603.84,733.12 604.87,733.76 605.87,734.43 606.85,735.12 607.80,735.83 608.72,736.56 609.62,737.31 610.49,738.09 611.33,738.88 612.15,739.69 600.10,759.69 599.50,758.95 598.87,758.21 598.23,757.50 597.56,756.80 596.88,756.12 596.17,755.46 595.45,754.83 594.71,754.21 593.95,753.61 593.17,753.04 592.39,752.49 591.58,751.97 590.77,751.47 589.94,751.00 589.11,750.55 588.26,750.13 587.40,749.73 586.54,749.37 585.67,749.03 584.79,748.72 583.91,748.44 583.03,748.18 582.14,747.96 581.26,747.77 580.37,747.60 579.48,747.47 578.60,747.37 577.72,747.29 576.84,747.25 575.97,747.24 575.10,747.26 574.24,747.31 573.39,747.39 572.55,747.50 571.72,747.64 570.90,747.81 570.10,748.01 569.30,748.24 568.52,748.50 567.76,748.79 567.01,749.11 566.28,749.45 565.57,749.83 564.88,750.23 564.21,750.66 563.55,751.11 562.92,751.59 562.31,752.09 561.73,752.62 561.17,753.18 560.63,753.76 560.11,754.36 559.63,754.98 559.17,755.62 558.73,756.28 558.32,756.97 557.95,757.67 557.59,758.39 557.27,759.12 556.98,759.88 556.71,760.65 556.48,761.43 556.28,762.22 556.10,763.03 555.96,763.85 555.85,764.68 555.76,765.52 555.71,766.36 555.69,767.22 555.70,768.08 555.75,768.94 555.82,769.81 555.92,770.68 556.06,771.56 556.22,772.43 556.42,773.31 556.64,774.18 556.90,775.05 557.18,775.92 557.50,776.79 557.84,777.64 558.21,778.50 558.61,779.34 559.04,780.18 559.49,781.00 559.97,781.82" fill="#479395" stroke="#479395" stroke-width="0.4"/>
<polygon points="611.81,783.36 611.51,784.13 611.17,784.90 610.80,785.65 610.38,786.38 609.94,787.09 609.46,787.79 608.94,788.47 608.39,789.13 607.81,789.76 607.19,790.38 606.54,790.98 605.86,791.55 605.15,792.10 604.41,792.62 603.65,793.12 602.85,793.59 602.03,794.04 601.19,794.46 600.32,794.86 599.42,795.23 598.50,795.56 597.57,795.88 596.61,796.16 595.63,796.41 594.64,796.63 593.63,796.83 592.60,796.99 591.56,797.13 590.51,797.23 589.44,797.30 588.37,797.35 587.29,797.36 586.19,797.34 585.10,797.29 584.00,797.21 582.89,797.10 581.78,796.97 580.67,796.80 579.57,796.60 578.46,796.37 577.36,796.11 576.26,795.82 575.17,795.51 574.08,795.16 573.00,794.79 571.94,794.39 570.88,793.96 569.84,793.51 568.81,793.03 567.79,792.53 566.80,792.00 565.81,791.45 564.85,790.87 563.91,790.27 562.99,789.65 562.09,789.01 561.21,788.35 560.36,787.67 559.53,786.97 558.73,786.25 557.96,785.51 557.21,784.76 556.50,784.00 555.81,783.21 555.16,782.42 554.53,781.61 553.94,780.80 553.38,779.97 552.86,779.13 552.37,778.29 551.92,777.43 551.50,776.57 551.11,775.71 550.77,774.84 550.46,773.97 550.18,773.10 549.95,772.22 549.75,771.35 549.59,770.47 549.47,769.60 549.39,768.73 549.35,767.87 549.34,767.01 549.38,766.16 549.45,765.32 549.56,764.48 549.71,763.65 549.90,762.84 550.13,762.04 550.39,761.24 550.69,760.47 551.03,759.70 551.40,758.95 551.82,758.22 552.26,757.51 552.74,756.81 553.26,756.13 553.81,755.47 554.39,754.84 555.01,754.22 555.66,753.62 556.34,753.05 557.05,752.50 557.79,751.98 558.55,751.48 559.35,751.01 560.17,750.56 561.01,750.14 561.88,749.74 562.78,749.37 563.70,749.04 564.63,748.72 565.59,748.44 566.57,748.19 567.56,747.97 568.57,747.77 569.60,747.61 570.64,747.47 571.69,747.37 572.76,747.30 573.83,747.25 574.91,747.24 576.01,747.26 577.10,747.31 578.20,747.39 579.31,747.50 580.42,747.63 581.53,747.80 582.63,748.00 583.74,748.23 584.84,748.49 585.94,748.78 587.03,749.09 588.12,749.44 589.20,749.81 590.26,750.21 591.32,750.64 592.36,751.09 593.39,751.57 594.41,752.07 595.40,752.60 596.39,753.15 597.35,753.73 598.29,754.33 599.21,754.95 600.11,755.59 600.99,756.25 601.84,756.93 602.67,757.63 603.47,758.35 604.24,759.09 604.99,759.84 605.70,760.60 606.39,761.39 607.04,762.18 607.67,762.99 608.26,763.80 608.82,764.63 609.34,765.47 609.83,766.31 610.28,767.17 610.70,768.03 611.09,768.89 611.43,769.76 611.74,770.63 612.02,771.50 612.25,772.38 612.45,773.25 612.61,774.13 612.73,775.00 612.81,775.87 612.85,776.73 612.86,777.59 612.82,778.44 612.75,779.28 612.64,780.12 612.49,780.95 612.30,781.76 612.07,782.56 611.81,783.36" fill="#fff"/>
</g>
<polygon points="654.32,714.20 656.54,716.43 658.68,718.70 660.72,721.02 662.67,723.38 664.53,725.77 666.30,728.20 667.96,730.66 669.52,733.14 670.98,735.66 672.33,738.19 673.58,740.74 674.72,743.31 675.74,745.89 676.66,748.48 677.47,751.08 678.16,753.68 678.74,756.28 679.20,758.87 679.55,761.46 679.78,764.04 679.90,766.60 679.90,769.15 679.78,771.68 679.55,774.18 679.20,776.66 678.74,779.11 678.16,781.53 677.47,783.91 676.66,786.26 675.75,788.56 674.72,790.82 673.58,793.04 615.47,767.89 615.92,767.15 616.33,766.39 616.70,765.61 617.04,764.82 617.33,764.02 617.58,763.20 617.80,762.36 617.97,761.52 618.10,760.66 618.20,759.80 618.25,758.93 618.26,758.05 618.23,757.16 618.16,756.27 618.05,755.38 617.89,754.48 617.70,753.58 617.47,752.68 617.19,751.78 616.88,750.89 616.53,749.99 616.14,749.10 615.71,748.22 615.25,747.34 614.74,746.47 614.20,745.61 613.63,744.76 613.02,743.92 612.37,743.09 611.70,742.28 610.99,741.48 610.25,740.69" fill="#6d70e6" stroke="#6d70e6" stroke-width="0.4"/>
<polygon points="673.58,793.04 672.33,795.21 670.97,797.33 669.50,799.40 667.93,801.41 666.26,803.35 664.49,805.24 662.62,807.06 660.66,808.81 658.60,810.49 656.45,812.10 654.21,813.64 651.89,815.10 649.49,816.49 647.00,817.79 644.45,819.01 641.81,820.15 639.11,821.21 636.35,822.18 633.52,823.07 630.63,823.87 627.69,824.58 624.69,825.20 621.65,825.73 618.56,826.16 615.43,826.51 612.27,826.77 609.07,826.93 605.85,827.00 602.60,826.98 599.33,826.87 596.04,826.66 592.75,826.36 589.44,825.97 586.13,825.49 582.83,824.92 579.52,824.26 576.23,823.51 572.95,822.67 569.68,821.74 566.44,820.73 563.22,819.63 560.03,818.45 556.87,817.19 553.75,815.85 550.68,814.43 547.64,812.93 573.61,773.74 574.65,774.24 575.71,774.72 576.78,775.17 577.86,775.59 578.95,775.98 580.06,776.35 581.17,776.68 582.29,776.99 583.41,777.27 584.54,777.51 585.67,777.73 586.80,777.91 587.93,778.06 589.06,778.18 590.18,778.27 591.30,778.33 592.42,778.36 593.52,778.35 594.62,778.32 595.71,778.25 596.79,778.15 597.85,778.01 598.90,777.85 599.93,777.66 600.95,777.43 601.94,777.18 602.92,776.89 603.88,776.57 604.81,776.23 605.73,775.85 606.61,775.45 607.48,775.02 608.31,774.56 609.12,774.07 609.90,773.56 610.65,773.02 611.37,772.46 612.06,771.87 612.71,771.26 613.33,770.63 613.92,769.98 614.47,769.30 614.99,768.60 615.47,767.89" fill="#4d8fe4" stroke="#4d8fe4" stroke-width="0.4"/>
<polygon points="547.64,812.93 544.59,811.33 541.60,809.64 538.66,807.88 535.78,806.05 532.98,804.16 530.24,802.19 527.57,800.16 524.99,798.07 522.48,795.92 520.06,793.71 517.72,791.45 565.32,768.30 566.26,769.07 567.23,769.82 568.23,770.54 569.25,771.24 570.31,771.90 571.39,772.55 572.49,773.16 573.61,773.74" fill="#42bcfb" stroke="#42bcfb" stroke-width="0.4"/>
<polygon points="517.72,791.45 515.40,789.06 513.18,786.62 511.06,784.13 509.05,781.60 507.15,779.03 505.36,776.42 503.68,773.78 502.12,771.12 500.68,768.42 560.09,762.82 560.74,763.64 561.42,764.46 562.14,765.26 562.89,766.04 563.67,766.81 564.48,767.56 565.32,768.30" fill="#e8a87a" stroke="#e8a87a" stroke-width="0.4"/>
<polygon points="500.68,768.42 499.43,765.87 498.29,763.29 497.26,760.71 496.34,758.12 495.53,755.52 494.84,752.92 494.26,750.32 493.80,747.72 493.45,745.13 493.22,742.55 493.10,739.98 493.10,737.43 493.22,734.90 493.45,732.39 493.80,729.91 494.27,727.46 494.85,725.04 495.54,722.65 496.35,720.30 497.27,718.00 498.30,715.74 499.44,713.52 500.69,711.36 502.05,709.24 503.51,707.18 505.07,705.18 506.74,703.24 508.51,701.36 510.37,699.55 512.33,697.80 514.38,696.13 516.52,694.52 518.75,692.99 521.06,691.53 523.45,690.15 525.92,688.85 528.47,687.63 531.09,686.49 533.78,685.43 536.53,684.46 539.35,683.57 542.23,682.77 545.16,682.06 548.14,681.44 551.17,680.90 554.24,680.46 557.36,680.11 560.51,679.85 563.69,679.68 566.90,679.60 570.14,679.61 573.40,679.72 576.67,679.92 579.95,680.21 583.25,680.59 586.54,681.06 589.84,681.62 593.14,682.27 596.42,683.01 599.69,683.84 602.95,684.75 606.18,685.75 609.39,686.83 612.58,687.99 615.73,689.24 618.84,690.57 621.91,691.97 624.94,693.45 627.92,695.01 630.85,696.64 633.73,698.34 636.54,700.11 639.29,701.94 641.98,703.84 644.60,705.80 647.15,707.82 649.62,709.89 652.01,712.02 654.32,714.20 610.25,740.69 609.49,739.95 608.72,739.21 607.91,738.50 607.08,737.80 606.22,737.12 605.34,736.46 604.43,735.83 603.51,735.21 602.56,734.61 601.59,734.04 600.61,733.49 599.61,732.97 598.59,732.47 597.55,732.00 596.51,731.55 595.45,731.13 594.38,730.73 593.30,730.37 592.21,730.03 591.12,729.72 590.02,729.44 588.91,729.18 587.81,728.96 586.70,728.77 585.59,728.60 584.48,728.47 583.37,728.37 582.27,728.29 581.18,728.25 580.09,728.24 579.00,728.26 577.93,728.31 576.87,728.39 575.82,728.50 574.78,728.64 573.75,728.81 572.75,729.01 571.75,729.24 570.78,729.50 569.83,729.79 568.89,730.11 567.98,730.45 567.09,730.83 566.22,731.23 565.38,731.66 564.57,732.11 563.78,732.59 563.02,733.09 562.29,733.62 561.58,734.18 560.91,734.76 560.27,735.36 559.66,735.98 559.08,736.62 558.54,737.28 558.03,737.97 557.56,738.67 557.12,739.39 556.71,740.12 556.35,740.88 556.02,741.65 555.72,742.43 555.47,743.22 555.25,744.03 555.07,744.85 554.93,745.68 554.83,746.52 554.77,747.36 554.74,748.22 554.75,749.08 554.81,749.94 554.90,750.81 555.03,751.68 555.20,752.56 555.40,753.43 555.65,754.31 555.93,755.18 556.25,756.05 556.60,756.92 557.00,757.79 557.42,758.64 557.89,759.50 558.39,760.34 558.92,761.18 559.49,762.00 560.09,762.82" fill="#4dd7c7" stroke="#4dd7c7" stroke-width="0.4"/>
<polyline points="442.00,82.50 499.30,82.50 519.60,95.60" fill="none" stroke="#e8609a" stroke-width="1.15" stroke-linejoin="round"/>
<text x="442.4" y="77.6" font-size="11" font-weight="bold" fill="#f09cc8" textLength="55.3" lengthAdjust="spacingAndGlyphs">Facility 55</text>
<polyline points="665.00,126.50 739.50,126.50" fill="none" stroke="#4a7fd8" stroke-width="1.15" stroke-linejoin="round"/>
<text x="678.8" y="121.8" font-size="11" font-weight="bold" fill="#3a5cc8" textLength="60.0" lengthAdjust="spacingAndGlyphs">Building 87</text>
<polyline points="739.80,229.50 657.80,229.50 630.80,201.80" fill="none" stroke="#2a9ada" stroke-width="1.15" stroke-linejoin="round"/>
<text x="662.5" y="224.5" font-size="11" font-weight="bold" fill="#55b5e8" textLength="70.5" lengthAdjust="spacingAndGlyphs">Electricity 22</text>
<polyline points="412.00,185.50 467.70,185.50 512.90,170.80" fill="none" stroke="#7565e6" stroke-width="1.15" stroke-linejoin="round"/>
<text x="412.4" y="180.7" font-size="11" font-weight="bold" fill="#8e7edb" textLength="53.6" lengthAdjust="spacingAndGlyphs">Machine 4</text>
<polyline points="420.80,214.50 500.90,214.50 533.60,183.70" fill="none" stroke="#2db55c" stroke-width="1.15" stroke-linejoin="round"/>
<text x="420.8" y="210" font-size="11" font-weight="bold" fill="#7cc79c" textLength="79.2" lengthAdjust="spacingAndGlyphs">Engineering 18</text>
<polyline points="490.00,245.50 543.30,245.50 576.50,201.20" fill="none" stroke="#cc843c" stroke-width="1.15" stroke-linejoin="round"/>
<text x="490.3" y="240.8" font-size="11" font-weight="bold" fill="#f0a868" textLength="49.0" lengthAdjust="spacingAndGlyphs">Safety 15</text>
<polyline points="409.50,352.50 538.70,352.50 554.80,363.40" fill="none" stroke="#3f7be0" stroke-width="1.15" stroke-linejoin="round"/>
<text x="409.9" y="335.9" font-size="11" font-weight="bold" fill="#4a82e0" textLength="102.5" lengthAdjust="spacingAndGlyphs">Licensed Architec /</text>
<text x="409.9" y="347.7" font-size="11" font-weight="bold" fill="#4a82e0" textLength="126.1" lengthAdjust="spacingAndGlyphs">Professional Engineer 7</text>
<polyline points="409.50,418.50 480.30,418.50 504.40,431.00" fill="none" stroke="#45b088" stroke-width="1.15" stroke-linejoin="round"/>
<text x="409.9" y="414.6" font-size="11" font-weight="bold" fill="#5cd0a8" textLength="69.9" lengthAdjust="spacingAndGlyphs">Craftsman 59</text>
<polyline points="665.50,419.50 739.80,419.50" fill="none" stroke="#2fa0e6" stroke-width="1.15" stroke-linejoin="round"/>
<text x="675.9" y="414.6" font-size="11" font-weight="bold" fill="#48b8f0" textLength="61.5" lengthAdjust="spacingAndGlyphs">Engineer 78</text>
<polyline points="471.00,547.50 591.40,547.50 627.90,497.20" fill="none" stroke="#b08868" stroke-width="1.15" stroke-linejoin="round"/>
<text x="471.5" y="542.9" font-size="11" font-weight="bold" fill="#e8a070" textLength="117.2" lengthAdjust="spacingAndGlyphs">Industrial Engineer 56</text>
<polyline points="433.20,679.50 505.00,679.50 528.20,692.20" fill="none" stroke="#45b088" stroke-width="1.15" stroke-linejoin="round"/>
<text x="434.3" y="674.8" font-size="11" font-weight="bold" fill="#5cd8b0" textLength="70.2" lengthAdjust="spacingAndGlyphs">Beginning 90</text>
<polyline points="408.60,797.50 492.60,797.50 519.60,777.10" fill="none" stroke="#c09060" stroke-width="1.15" stroke-linejoin="round"/>
<text x="408.6" y="792.7" font-size="11" font-weight="bold" fill="#e8a878" textLength="82.4" lengthAdjust="spacingAndGlyphs">Intermediate 14</text>
<polyline points="444.50,827.50 515.80,827.50 537.00,796.70" fill="none" stroke="#34a0e6" stroke-width="1.15" stroke-linejoin="round"/>
<text x="445.1" y="823.8" font-size="11" font-weight="bold" fill="#40b8f8" textLength="67.1" lengthAdjust="spacingAndGlyphs">Advanced 14</text>
<polyline points="667.50,753.50 747.00,753.50" fill="none" stroke="#7263e0" stroke-width="1.15" stroke-linejoin="round"/>
<text x="694.3" y="749.5" font-size="11" font-weight="bold" fill="#6a6ce0" textLength="50.7" lengthAdjust="spacingAndGlyphs">Others 28</text>
<polyline points="747.00,848.50 662.50,848.50 618.80,820.50" fill="none" stroke="#3f80e0" stroke-width="1.15" stroke-linejoin="round"/>
<text x="667.5" y="843" font-size="11" font-weight="bold" fill="#5a8ce8" textLength="77.0" lengthAdjust="spacingAndGlyphs">Specialized 55</text>
</g>
</svg></body></html>
